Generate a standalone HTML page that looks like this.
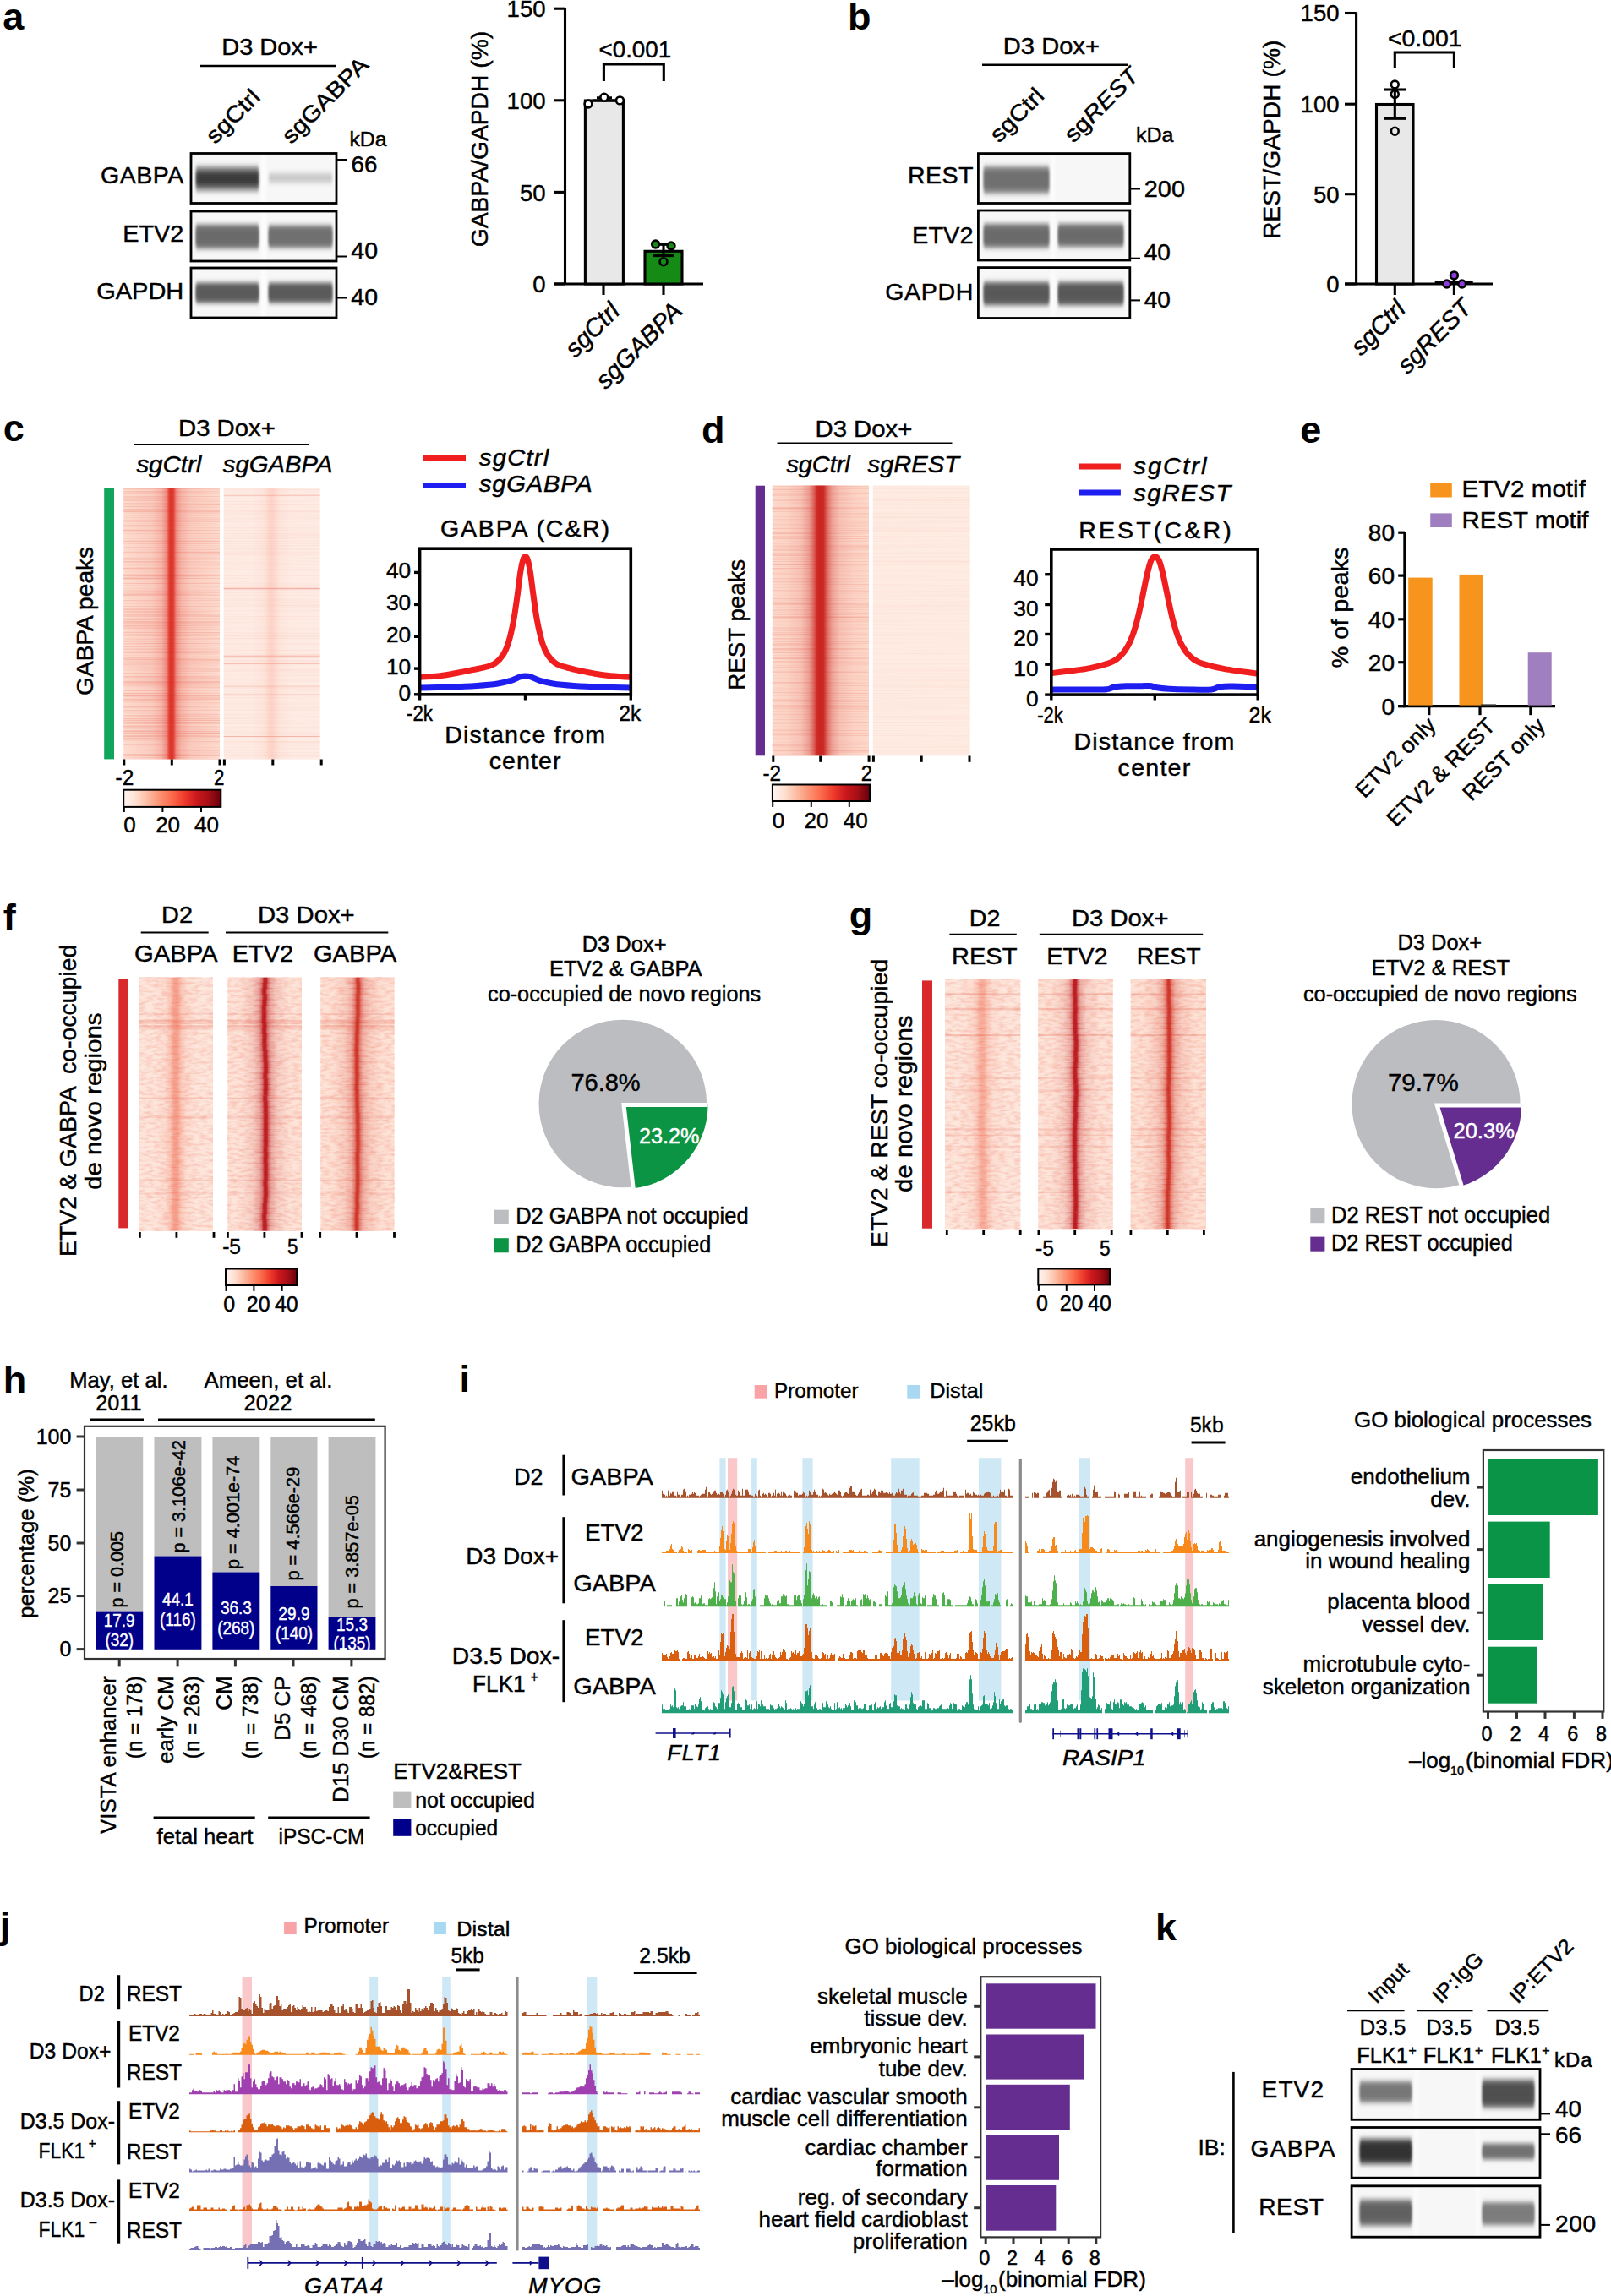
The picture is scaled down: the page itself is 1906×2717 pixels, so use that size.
<!DOCTYPE html>
<html lang="en"><head><meta charset="utf-8"><title>Figure</title>
<style>
html,body{margin:0;padding:0;background:#fff}
svg{display:block}
svg{font-family:"Liberation Sans",sans-serif}
</style></head><body>
<svg width="1906" height="2717" viewBox="0 0 1906 2717" font-size="28" fill="#000">
<rect width="1906" height="2717" fill="#fff"/>
<defs>
<filter id="bl" x="-10%" y="-50%" width="120%" height="200%"><feGaussianBlur stdDeviation="1.6 3.2"/></filter>
<filter id="bl2" x="-10%" y="-10%" width="120%" height="120%"><feGaussianBlur stdDeviation="2 0"/></filter>

<filter id="nz" x="0" y="0" width="100%" height="100%" color-interpolation-filters="sRGB">
<feTurbulence type="fractalNoise" baseFrequency="0.004 0.7" numOctaves="2" seed="7"/>
<feColorMatrix type="matrix" values="0 0 0 0 0.88  0 0 0 0 0.25  0 0 0 0 0.18  1.4 0 0 0 -0.62"/>
</filter>
<filter id="nzw" x="0" y="0" width="100%" height="100%" color-interpolation-filters="sRGB">
<feTurbulence type="fractalNoise" baseFrequency="0.004 0.7" numOctaves="2" seed="23"/>
<feColorMatrix type="matrix" values="0 0 0 0 1  0 0 0 0 0.96  0 0 0 0 0.94  1.2 0 0 0 -0.55"/>
</filter>
<filter id="nz2" x="0" y="0" width="100%" height="100%" color-interpolation-filters="sRGB">
<feTurbulence type="fractalNoise" baseFrequency="0.012 0.35" numOctaves="2" seed="11"/>
<feColorMatrix type="matrix" values="0 0 0 0 0.9  0 0 0 0 0.3  0 0 0 0 0.22  1.3 0 0 0 -0.58"/>
</filter>
<filter id="nz3" x="0" y="0" width="100%" height="100%" color-interpolation-filters="sRGB">
<feTurbulence type="fractalNoise" baseFrequency="0.11 0.32" numOctaves="2" seed="5"/>
<feColorMatrix type="matrix" values="0 0 0 0 0.93  0 0 0 0 0.38  0 0 0 0 0.28  1.3 0 0 0 -0.5"/>
</filter>
<linearGradient id="reds" x1="0" x2="1" y1="0" y2="0">
<stop offset="0" stop-color="#fff5f0"/><stop offset="0.125" stop-color="#fee0d2"/><stop offset="0.25" stop-color="#fcbba1"/>
<stop offset="0.375" stop-color="#fc9272"/><stop offset="0.5" stop-color="#fb6a4a"/><stop offset="0.625" stop-color="#ef3b2c"/>
<stop offset="0.75" stop-color="#cb181d"/><stop offset="0.875" stop-color="#a50f15"/><stop offset="1" stop-color="#67000d"/>
</linearGradient>

</defs>
<g id="pa">
<text transform="translate(3.3 34.6)" font-size="45" font-weight="bold">a</text>
<text transform="translate(262.2 65.2) scale(1.037 1)" stroke="#000" stroke-width="0.45">D3 Dox+</text>
<path d="M237 78L397 78" stroke="#000" stroke-width="2.4" fill="none" />
<text transform="translate(254.5 171.5) rotate(-45) scale(1.100 1)" font-size="27" stroke="#000" stroke-width="0.45">sgCtrl</text>
<text transform="translate(344.5 171.5) rotate(-45) scale(1.100 1)" font-size="27" stroke="#000" stroke-width="0.45">sgGABPA</text>
<text transform="translate(413.4 172.5) scale(1.037 1)" font-size="24" stroke="#000" stroke-width="0.45">kDa</text>
<clipPath id="ca1"><rect x="226" y="181.5" width="172" height="59"/></clipPath>
<g clip-path="url(#ca1)">
<rect x="227" y="181.5" width="83" height="59" fill="#f7f7f7" filter="url(#bl2)"/>
<rect x="313.5" y="181.5" width="83.5" height="59" fill="#f7f7f7" filter="url(#bl2)"/>
<rect x="232" y="197" width="74" height="29" fill="#8a8a8a" opacity="1.0" filter="url(#bl)"/>
<rect x="232" y="203" width="74" height="17" fill="#3a3a3a" opacity="1.0" filter="url(#bl)"/>
<rect x="318" y="205" width="75" height="11" fill="#c8c8c8" opacity="1.0" filter="url(#bl)"/>
</g>
<rect x="226" y="181.5" width="172" height="59" fill="none" stroke="#000" stroke-width="2.8"/>
<clipPath id="ca2"><rect x="226" y="250" width="172" height="59"/></clipPath>
<g clip-path="url(#ca2)">
<rect x="227" y="250" width="83" height="59" fill="#f7f7f7" filter="url(#bl2)"/>
<rect x="313.5" y="250" width="83.5" height="59" fill="#f7f7f7" filter="url(#bl2)"/>
<rect x="232" y="266" width="74" height="28" fill="#7a7a7a" opacity="1.0" filter="url(#bl)"/>
<rect x="232" y="270" width="74" height="20" fill="#6a6a6a" opacity="1.0" filter="url(#bl)"/>
<rect x="318" y="267" width="75" height="26" fill="#7a7a7a" opacity="1.0" filter="url(#bl)"/>
<rect x="318" y="271" width="75" height="18" fill="#707070" opacity="1.0" filter="url(#bl)"/>
</g>
<rect x="226" y="250" width="172" height="59" fill="none" stroke="#000" stroke-width="2.8"/>
<clipPath id="ca3"><rect x="226" y="317" width="172" height="59"/></clipPath>
<g clip-path="url(#ca3)">
<rect x="227" y="317" width="83" height="59" fill="#f7f7f7" filter="url(#bl2)"/>
<rect x="313.5" y="317" width="83.5" height="59" fill="#f7f7f7" filter="url(#bl2)"/>
<rect x="232" y="335" width="74" height="23" fill="#6a6a6a" opacity="1.0" filter="url(#bl)"/>
<rect x="232" y="338" width="74" height="17" fill="#5a5a5a" opacity="1.0" filter="url(#bl)"/>
<rect x="318" y="335" width="75" height="23" fill="#6a6a6a" opacity="1.0" filter="url(#bl)"/>
<rect x="318" y="338" width="75" height="17" fill="#5a5a5a" opacity="1.0" filter="url(#bl)"/>
</g>
<rect x="226" y="317" width="172" height="59" fill="none" stroke="#000" stroke-width="2.8"/>
<text transform="translate(118.9 217) scale(1.040 1)" font-size="27.5" stroke="#000" stroke-width="0.45" letter-spacing="0.47">GABPA</text>
<text transform="translate(145.3 285.5) scale(1.047 1)" font-size="27.5" stroke="#000" stroke-width="0.45">ETV2</text>
<text transform="translate(114.2 354) scale(1.055 1)" font-size="27.5" stroke="#000" stroke-width="0.45">GAPDH</text>
<path d="M398 189L410 189" stroke="#000" stroke-width="2" fill="none" />
<path d="M398 303.5L410 303.5" stroke="#000" stroke-width="2" fill="none" />
<path d="M398 352.5L410 352.5" stroke="#000" stroke-width="2" fill="none" />
<text transform="translate(415.5 204.3) scale(1.010 1)" font-size="27.5" stroke="#000" stroke-width="0.45">66</text>
<text transform="translate(415.3 306) scale(1.036 1)" font-size="27.5" stroke="#000" stroke-width="0.45">40</text>
<text transform="translate(415.3 361) scale(1.036 1)" font-size="27.5" stroke="#000" stroke-width="0.45">40</text>
<path d="M668.5 9.5L668.5 337" stroke="#000" stroke-width="3.1" fill="none" />
<path d="M655 336L832 336" stroke="#000" stroke-width="3.1" fill="none" />
<path d="M655 10.2L668.5 10.2" stroke="#000" stroke-width="3.1" fill="none" />
<text transform="translate(645.5 20.4)" font-size="27.5" text-anchor="end" stroke="#000" stroke-width="0.45">150</text>
<path d="M655 118.8L668.5 118.8" stroke="#000" stroke-width="3.1" fill="none" />
<text transform="translate(645.5 129)" font-size="27.5" text-anchor="end" stroke="#000" stroke-width="0.45">100</text>
<path d="M655 227.4L668.5 227.4" stroke="#000" stroke-width="3.1" fill="none" />
<text transform="translate(645.5 237.6)" font-size="27.5" text-anchor="end" stroke="#000" stroke-width="0.45">50</text>
<path d="M655 336L668.5 336" stroke="#000" stroke-width="3.1" fill="none" />
<text transform="translate(645.5 346.2)" font-size="27.5" text-anchor="end" stroke="#000" stroke-width="0.45">0</text>
<text transform="translate(577 164.5) rotate(-90) scale(1.010 1)" text-anchor="middle" stroke="#000" stroke-width="0.45">GABPA/GAPDH (%)</text>
<rect x="692.4" y="119" width="45" height="217" fill="#e8e8e8" stroke="#000" stroke-width="3.1"/>
<rect x="763" y="297.3" width="44" height="38.7" fill="#158a15" stroke="#000" stroke-width="3.1"/>
<path d="M701.7 119L728 119" stroke="#000" stroke-width="3.1" fill="none" />
<path d="M714.8 115.8L714.8 119" stroke="#000" stroke-width="3.1" fill="none" />
<path d="M706 115.8L724 115.8" stroke="#000" stroke-width="3.1" fill="none" />
<circle cx="696" cy="123" r="4.4" fill="#fff" stroke="#000" stroke-width="2.6"/>
<circle cx="714.8" cy="115.2" r="4.4" fill="#fff" stroke="#000" stroke-width="2.6"/>
<circle cx="733.4" cy="118.9" r="4.4" fill="#fff" stroke="#000" stroke-width="2.6"/>
<path d="M785 289.3L785 302.6" stroke="#000" stroke-width="3.1" fill="none" />
<path d="M773 289.3L797 289.3" stroke="#000" stroke-width="3.1" fill="none" />
<path d="M773 302.6L797 302.6" stroke="#000" stroke-width="3.1" fill="none" />
<circle cx="775.6" cy="289" r="4.4" fill="#158a15" stroke="#000" stroke-width="2.6"/>
<circle cx="794" cy="291" r="4.4" fill="#158a15" stroke="#000" stroke-width="2.6"/>
<circle cx="785" cy="309.7" r="4.4" fill="#158a15" stroke="#000" stroke-width="2.6"/>
<path d="M714.4 96V76H785.3V96" stroke="#000" stroke-width="3.1" fill="none" />
<text transform="translate(708.5 67.7) scale(0.992 1)" stroke="#000" stroke-width="0.45">&lt;0.001</text>
<path d="M714 336L714 349" stroke="#000" stroke-width="3.1" fill="none" />
<path d="M785 336L785 349" stroke="#000" stroke-width="3.1" fill="none" />
<text transform="translate(735 370) rotate(-45)" font-size="29.5" text-anchor="end" font-style="italic" stroke="#000" stroke-width="0.45">sgCtrl</text>
<text transform="translate(809 369.5) rotate(-45)" font-size="29.5" text-anchor="end" font-style="italic" stroke="#000" stroke-width="0.45">sgGABPA</text>
</g>
<g id="pb">
<text transform="translate(1002.9 34.6)" font-size="45" font-weight="bold">b</text>
<text transform="translate(1186.8 63.6) scale(1.041 1)" stroke="#000" stroke-width="0.45">D3 Dox+</text>
<path d="M1162 76.7L1335 76.7" stroke="#000" stroke-width="2.4" fill="none" />
<text transform="translate(1182 170) rotate(-45) scale(1.100 1)" font-size="27" stroke="#000" stroke-width="0.45">sgCtrl</text>
<text transform="translate(1270 170) rotate(-45) scale(1.110 1)" font-size="27" stroke="#000" stroke-width="0.45">sg</text><text transform="translate(1292.4 147.6) rotate(-45) scale(1.110 1)" font-size="27" font-style="italic" stroke="#000" stroke-width="0.45">REST</text>
<text transform="translate(1343.9 167.6) scale(1.046 1)" font-size="24" stroke="#000" stroke-width="0.45">kDa</text>
<clipPath id="cb1"><rect x="1157.4" y="181.6" width="179.4" height="58.9"/></clipPath>
<g clip-path="url(#cb1)">
<rect x="1159" y="181.6" width="86" height="58.9" fill="#f7f7f7" filter="url(#bl2)"/>
<rect x="1247" y="181.6" width="86.5" height="58.9" fill="#f7f7f7" filter="url(#bl2)"/>
<rect x="1164" y="197" width="77" height="32" fill="#909090" opacity="1.0" filter="url(#bl)"/>
<rect x="1164" y="201" width="77" height="23" fill="#707070" opacity="1.0" filter="url(#bl)"/>
</g>
<rect x="1157.4" y="181.6" width="179.4" height="58.9" fill="none" stroke="#000" stroke-width="2.8"/>
<clipPath id="cb2"><rect x="1157.4" y="249" width="179.4" height="59"/></clipPath>
<g clip-path="url(#cb2)">
<rect x="1159" y="249" width="86" height="59" fill="#f7f7f7" filter="url(#bl2)"/>
<rect x="1247" y="249" width="86.5" height="59" fill="#f7f7f7" filter="url(#bl2)"/>
<rect x="1164" y="265" width="77" height="28" fill="#808080" opacity="1.0" filter="url(#bl)"/>
<rect x="1164" y="269" width="77" height="20" fill="#6a6a6a" opacity="1.0" filter="url(#bl)"/>
<rect x="1252" y="265" width="77" height="27" fill="#808080" opacity="1.0" filter="url(#bl)"/>
<rect x="1252" y="269" width="77" height="19" fill="#6a6a6a" opacity="1.0" filter="url(#bl)"/>
</g>
<rect x="1157.4" y="249" width="179.4" height="59" fill="none" stroke="#000" stroke-width="2.8"/>
<clipPath id="cb3"><rect x="1157.4" y="316.6" width="179.4" height="59.9"/></clipPath>
<g clip-path="url(#cb3)">
<rect x="1159" y="316.6" width="86" height="59.9" fill="#f7f7f7" filter="url(#bl2)"/>
<rect x="1247" y="316.6" width="86.5" height="59.9" fill="#f7f7f7" filter="url(#bl2)"/>
<rect x="1164" y="334" width="77" height="27" fill="#6a6a6a" opacity="1.0" filter="url(#bl)"/>
<rect x="1164" y="338" width="77" height="19" fill="#585858" opacity="1.0" filter="url(#bl)"/>
<rect x="1252" y="334" width="77" height="27" fill="#6a6a6a" opacity="1.0" filter="url(#bl)"/>
<rect x="1252" y="338" width="77" height="19" fill="#585858" opacity="1.0" filter="url(#bl)"/>
</g>
<rect x="1157.4" y="316.6" width="179.4" height="59.9" fill="none" stroke="#000" stroke-width="2.8"/>
<text transform="translate(1073.9 217.3) scale(1.040 1)" font-size="27.5" stroke="#000" stroke-width="0.45" letter-spacing="0.42">REST</text>
<text transform="translate(1079.1 288) scale(1.053 1)" font-size="27.5" stroke="#000" stroke-width="0.45">ETV2</text>
<text transform="translate(1047.2 354.7) scale(1.040 1)" font-size="27.5" stroke="#000" stroke-width="0.45" letter-spacing="0.63">GAPDH</text>
<path d="M1336.8 223.5L1349 223.5" stroke="#000" stroke-width="2" fill="none" />
<path d="M1336.8 305.7L1349 305.7" stroke="#000" stroke-width="2" fill="none" />
<path d="M1336.8 355.4L1349 355.4" stroke="#000" stroke-width="2" fill="none" />
<text transform="translate(1353.8 232.5) scale(1.049 1)" font-size="27.5" stroke="#000" stroke-width="0.45">200</text>
<text transform="translate(1353.8 307.5) scale(1.017 1)" font-size="27.5" stroke="#000" stroke-width="0.45">40</text>
<text transform="translate(1353.8 364) scale(1.017 1)" font-size="27.5" stroke="#000" stroke-width="0.45">40</text>
<path d="M1604.6 14.5L1604.6 337" stroke="#000" stroke-width="3.1" fill="none" />
<path d="M1591 336L1766 336" stroke="#000" stroke-width="3.1" fill="none" />
<path d="M1591 15.5L1604.6 15.5" stroke="#000" stroke-width="3.1" fill="none" />
<text transform="translate(1584.5 25.3)" font-size="27.5" text-anchor="end" stroke="#000" stroke-width="0.45">150</text>
<path d="M1591 123.2L1604.6 123.2" stroke="#000" stroke-width="3.1" fill="none" />
<text transform="translate(1584.5 133)" font-size="27.5" text-anchor="end" stroke="#000" stroke-width="0.45">100</text>
<path d="M1591 229.7L1604.6 229.7" stroke="#000" stroke-width="3.1" fill="none" />
<text transform="translate(1584.5 239.5)" font-size="27.5" text-anchor="end" stroke="#000" stroke-width="0.45">50</text>
<path d="M1591 336L1604.6 336" stroke="#000" stroke-width="3.1" fill="none" />
<text transform="translate(1584.5 345.8)" font-size="27.5" text-anchor="end" stroke="#000" stroke-width="0.45">0</text>
<text transform="translate(1514 165.3) rotate(-90) scale(1.010 1)" text-anchor="middle" stroke="#000" stroke-width="0.45">REST/GAPDH (%)</text>
<rect x="1628.5" y="123.5" width="43.5" height="212.5" fill="#e8e8e8" stroke="#000" stroke-width="3.1"/>
<path d="M1650.3 106L1650.3 140.3" stroke="#000" stroke-width="3.1" fill="none" />
<path d="M1637 106L1663 106" stroke="#000" stroke-width="3.1" fill="none" />
<path d="M1637 140.3L1663 140.3" stroke="#000" stroke-width="3.1" fill="none" />
<circle cx="1650.3" cy="100" r="4.4" fill="none" stroke="#000" stroke-width="2.6"/>
<circle cx="1650.3" cy="111.5" r="4.4" fill="none" stroke="#000" stroke-width="2.6"/>
<circle cx="1650.3" cy="155.2" r="4.4" fill="none" stroke="#000" stroke-width="2.6"/>
<path d="M1697.7 334.6L1742.7 334.6" stroke="#000" stroke-width="3.1" fill="none" />
<path d="M1720.4 330L1720.4 349" stroke="#000" stroke-width="3.1" fill="none" />
<circle cx="1711.7" cy="336" r="4.4" fill="#8e3bdb" stroke="#000" stroke-width="2.6"/>
<circle cx="1720.4" cy="325.9" r="4.4" fill="#8e3bdb" stroke="#000" stroke-width="2.6"/>
<circle cx="1729.7" cy="336" r="4.4" fill="#8e3bdb" stroke="#000" stroke-width="2.6"/>
<path d="M1650.3 81V62H1720.4V81" stroke="#000" stroke-width="3.1" fill="none" />
<text transform="translate(1641.9 55.2) scale(1.016 1)" stroke="#000" stroke-width="0.45">&lt;0.001</text>
<path d="M1650.3 336L1650.3 349" stroke="#000" stroke-width="3.1" fill="none" />
<text transform="translate(1664.7 367.5) rotate(-45)" font-size="29.5" text-anchor="end" font-style="italic" stroke="#000" stroke-width="0.45">sgCtrl</text>
<text transform="translate(1743 366) rotate(-45)" font-size="29.5" text-anchor="end" font-style="italic" stroke="#000" stroke-width="0.45">sgREST</text>
</g>
<g id="pc">
<text transform="translate(3.7 522)" font-size="45" font-weight="bold">c</text>
<text transform="translate(211 515.7) scale(1.047 1)" stroke="#000" stroke-width="0.45">D3 Dox+</text>
<path d="M159 526L365.6 526" stroke="#000" stroke-width="2" fill="none" />
<text transform="translate(161.4 559) scale(1.052 1)" font-style="italic" stroke="#000" stroke-width="0.45">sgCtrl</text>
<text transform="translate(263.8 559) scale(1.046 1)" font-style="italic" stroke="#000" stroke-width="0.45">sgGABPA</text>
<rect x="123.2" y="577.8" width="11.8" height="320.6" fill="#0fa55a"/>
<rect x="146.2" y="577" width="113.8" height="321.4" fill="#fddccf"/>
<path d="M146.2 653.5h113.8" stroke="#e0402f" stroke-width="1" opacity="0.13" fill="none"/>
<path d="M146.2 871.4h113.8" stroke="#e0402f" stroke-width="2" opacity="0.12" fill="none"/>
<path d="M146.2 598.1h113.8M146.2 865.3h113.8" stroke="#e0402f" stroke-width="1.5" opacity="0.05" fill="none"/>
<path d="M146.2 660.4h113.8M146.2 736.1h113.8" stroke="#e0402f" stroke-width="1.5" opacity="0.09" fill="none"/>
<path d="M146.2 750.9h113.8" stroke="#e0402f" stroke-width="1.5" opacity="0.13" fill="none"/>
<path d="M146.2 782.4h113.8" stroke="#e0402f" stroke-width="1" opacity="0.07" fill="none"/>
<path d="M146.2 856h113.8" stroke="#e0402f" stroke-width="0.8" opacity="0.13" fill="none"/>
<path d="M146.2 792.8h113.8" stroke="#e0402f" stroke-width="2" opacity="0.06" fill="none"/>
<path d="M146.2 590.8h113.8" stroke="#e0402f" stroke-width="1" opacity="0.17" fill="none"/>
<path d="M146.2 728.9h113.8M146.2 771.4h113.8" stroke="#e0402f" stroke-width="1.5" opacity="0.16" fill="none"/>
<path d="M146.2 806.5h113.8" stroke="#e0402f" stroke-width="1.5" opacity="0.19" fill="none"/>
<path d="M146.2 811h113.8M146.2 867.8h113.8" stroke="#e0402f" stroke-width="1" opacity="0.14" fill="none"/>
<path d="M146.2 859.5h113.8" stroke="#e0402f" stroke-width="1" opacity="0.06" fill="none"/>
<path d="M146.2 827.4h113.8" stroke="#e0402f" stroke-width="1.5" opacity="0.18" fill="none"/>
<path d="M146.2 740h113.8M146.2 748.7h113.8" stroke="#e0402f" stroke-width="1" opacity="0.11" fill="none"/>
<path d="M146.2 867.6h113.8" stroke="#e0402f" stroke-width="0.8" opacity="0.15" fill="none"/>
<path d="M146.2 852.2h113.8M146.2 780.4h113.8" stroke="#e0402f" stroke-width="1" opacity="0.2" fill="none"/>
<path d="M146.2 801.5h113.8" stroke="#e0402f" stroke-width="2" opacity="0.1" fill="none"/>
<path d="M146.2 668.6h113.8" stroke="#e0402f" stroke-width="1.5" opacity="0.06" fill="none"/>
<path d="M146.2 605.4h113.8" stroke="#e0402f" stroke-width="1.5" opacity="0.17" fill="none"/>
<path d="M146.2 824.1h113.8" stroke="#e0402f" stroke-width="0.8" opacity="0.18" fill="none"/>
<path d="M146.2 807.9h113.8" stroke="#e0402f" stroke-width="1" opacity="0.1" fill="none"/>
<rect x="146.2" y="577" width="113.8" height="321.4" filter="url(#nz)" opacity="0.45"/>
<linearGradient id="g1" x1="0" x2="1" y1="0" y2="0"><stop offset="0.000" stop-color="#dc2a20" stop-opacity="0"/><stop offset="0.297" stop-color="#dc2a20" stop-opacity="0.09"/><stop offset="0.397" stop-color="#dc2a20" stop-opacity="0.22"/><stop offset="0.447" stop-color="#dc2a20" stop-opacity="0.45"/><stop offset="0.475" stop-color="#dc2a20" stop-opacity="0.88"/><stop offset="0.497" stop-color="#dc2a20" stop-opacity="0.95"/><stop offset="0.519" stop-color="#dc2a20" stop-opacity="0.88"/><stop offset="0.547" stop-color="#dc2a20" stop-opacity="0.45"/><stop offset="0.597" stop-color="#dc2a20" stop-opacity="0.22"/><stop offset="0.697" stop-color="#dc2a20" stop-opacity="0.09"/><stop offset="0.997" stop-color="#dc2a20" stop-opacity="0"/></linearGradient>
<rect x="146.2" y="577" width="113.8" height="321.4" fill="url(#g1)"/>
<rect x="264.7" y="577" width="113.9" height="321.4" fill="#feebe3"/>
<path d="M264.7 777.2h113.9" stroke="#e0402f" stroke-width="2" opacity="0.29" fill="none"/>
<path d="M264.7 586.3h113.9" stroke="#e0402f" stroke-width="1" opacity="0.22" fill="none"/>
<path d="M264.7 785.6h113.9" stroke="#e0402f" stroke-width="0.8" opacity="0.33" fill="none"/>
<path d="M264.7 696.5h113.9" stroke="#e0402f" stroke-width="1.5" opacity="0.32" fill="none"/>
<path d="M264.7 751.8h113.9" stroke="#e0402f" stroke-width="0.8" opacity="0.24" fill="none"/>
<path d="M264.7 812h113.9" stroke="#e0402f" stroke-width="1" opacity="0.2" fill="none"/>
<path d="M264.7 871.5h113.9" stroke="#e0402f" stroke-width="1" opacity="0.29" fill="none"/>
<path d="M264.7 821.9h113.9" stroke="#e0402f" stroke-width="2" opacity="0.12" fill="none"/>
<path d="M264.7 775.4h113.9" stroke="#e0402f" stroke-width="0.8" opacity="0.13" fill="none"/>
<rect x="264.7" y="577" width="113.9" height="321.4" filter="url(#nz)" opacity="0.12"/>
<linearGradient id="g2" x1="0" x2="1" y1="0" y2="0"><stop offset="0.297" stop-color="#f4866a" stop-opacity="0"/><stop offset="0.417" stop-color="#f4866a" stop-opacity="0.06"/><stop offset="0.467" stop-color="#f4866a" stop-opacity="0.18"/><stop offset="0.497" stop-color="#f4866a" stop-opacity="0.22"/><stop offset="0.527" stop-color="#f4866a" stop-opacity="0.18"/><stop offset="0.577" stop-color="#f4866a" stop-opacity="0.06"/><stop offset="0.697" stop-color="#f4866a" stop-opacity="0"/></linearGradient>
<rect x="264.7" y="577" width="113.9" height="321.4" fill="url(#g2)"/>
<path d="M146.8 898.5L146.8 905.5" stroke="#000" stroke-width="3" fill="none" />
<path d="M203.3 898.5L203.3 905.5" stroke="#000" stroke-width="3" fill="none" />
<path d="M260 898.5L260 905.5" stroke="#000" stroke-width="3" fill="none" />
<path d="M265.4 898.5L265.4 905.5" stroke="#000" stroke-width="3" fill="none" />
<path d="M322.8 898.5L322.8 905.5" stroke="#000" stroke-width="3" fill="none" />
<path d="M380.2 898.5L380.2 905.5" stroke="#000" stroke-width="3" fill="none" />
<text transform="translate(136.6 929) scale(0.975 1)" font-size="25" stroke="#000" stroke-width="0.45">-2</text>
<text transform="translate(253 929) scale(0.894 1)" font-size="25" stroke="#000" stroke-width="0.45">2</text>
<rect x="146.2" y="934.7" width="115.1" height="20.2" fill="url(#reds)" stroke="#000" stroke-width="2"/>
<path d="M146.8 954.9L146.8 961" stroke="#000" stroke-width="2" fill="none" />
<path d="M192.4 954.9L192.4 961" stroke="#000" stroke-width="2" fill="none" />
<path d="M238 954.9L238 961" stroke="#000" stroke-width="2" fill="none" />
<text transform="translate(153.6 985.3)" font-size="26" text-anchor="middle" stroke="#000" stroke-width="0.45">0</text>
<text transform="translate(198.6 985.3)" font-size="26" text-anchor="middle" stroke="#000" stroke-width="0.45">20</text>
<text transform="translate(244.4 985.3)" font-size="26" text-anchor="middle" stroke="#000" stroke-width="0.45">40</text>
<text transform="translate(110 823) rotate(-90) scale(1.005 1)" stroke="#000" stroke-width="0.45">GABPA peaks</text>
<path d="M500.5 542L551 542" stroke="#f01e1e" stroke-width="6.8" fill="none" />
<path d="M500.5 574.7L551 574.7" stroke="#1e1ef0" stroke-width="6.8" fill="none" />
<text transform="translate(567 550.8) scale(1.040 1)" font-style="italic" stroke="#000" stroke-width="0.45" letter-spacing="1.21">sgCtrl</text>
<text transform="translate(567 581.8) scale(1.040 1)" font-style="italic" stroke="#000" stroke-width="0.45" letter-spacing="0.76">sgGABPA</text>
<text transform="translate(521 634.6) scale(1.040 1)" font-size="27.5" stroke="#000" stroke-width="0.45" letter-spacing="1.71">GABPA (C&amp;R)</text>
<clipPath id="cpc"><rect x="496.6" y="649.2" width="249.7" height="172.6"/></clipPath>
<g clip-path="url(#cpc)">
<path d="M496.8 801.2C500.8 801 513.1 800.6 520.7 799.7C528.3 798.8 536.2 797.1 542.4 796C548.6 794.8 552.8 793.9 557.9 792.8C563.1 791.8 568.8 791.1 573.5 789.7C578.1 788.4 582.3 787.3 585.9 784.8C589.5 782.3 592.6 778.8 595.2 774.8C597.8 770.9 599.3 767.6 601.4 760.9C603.5 754.2 605.8 744.1 607.6 734.5C609.4 724.9 610.9 713.3 612.3 703.5C613.6 693.6 614.8 682.5 616 675.5C617.1 668.5 618.2 664.3 619.1 661.6C620 658.8 620.7 659.1 621.6 659.1C622.4 659.1 623.1 658.8 624 661.6C625 664.3 626 668.5 627.2 675.5C628.3 682.5 629.5 693.6 630.9 703.5C632.3 713.3 633.7 724.9 635.5 734.5C637.3 744.1 639.7 754.2 641.7 760.9C643.8 767.6 645.4 770.9 647.9 774.8C650.5 778.8 653.6 782.3 657.3 784.8C660.9 787.3 665 788.3 669.7 789.7C674.3 791.2 679.5 792.2 685.2 793.5C690.9 794.7 697.6 796.2 703.8 797.2C710 798.2 715.3 799 722.4 799.7C729.5 800.3 742.3 801 746.3 801.2" stroke="#f01e1e" stroke-width="7" fill="none" stroke-linejoin="round"/>
<path d="M496.8 814C502.8 813.8 521.9 813.4 533.1 813C544.3 812.6 554.8 812.1 564.1 811.5C573.5 810.8 582.3 810 589 809C595.7 808 600.1 806.6 604.5 805.3C608.9 803.9 612.5 801.8 615.4 800.9C618.2 800 619.5 800 621.6 800C623.6 800 624.9 800 627.8 800.9C630.6 801.8 634.2 803.9 638.6 805.3C643 806.6 647.4 808 654.2 809C660.9 810 669.7 810.8 679 811.5C688.3 812.1 698.8 812.6 710 813C721.2 813.4 740.3 813.8 746.3 814" stroke="#1e1ef0" stroke-width="7" fill="none" stroke-linejoin="round"/>
</g>
<rect x="496.6" y="649.2" width="249.7" height="172.6" fill="none" stroke="#000" stroke-width="3.6"/>
<path d="M490 677.4L496.6 677.4" stroke="#000" stroke-width="3.4" fill="none" />
<text transform="translate(486.2 684.3) scale(1.050 1)" font-size="25" text-anchor="end" stroke="#000" stroke-width="0.45">40</text>
<path d="M490 715.4L496.6 715.4" stroke="#000" stroke-width="3.4" fill="none" />
<text transform="translate(486.2 722.3) scale(1.050 1)" font-size="25" text-anchor="end" stroke="#000" stroke-width="0.45">30</text>
<path d="M490 753.3L496.6 753.3" stroke="#000" stroke-width="3.4" fill="none" />
<text transform="translate(486.2 760.2) scale(1.050 1)" font-size="25" text-anchor="end" stroke="#000" stroke-width="0.45">20</text>
<path d="M490 791.1L496.6 791.1" stroke="#000" stroke-width="3.4" fill="none" />
<text transform="translate(486.2 798) scale(1.050 1)" font-size="25" text-anchor="end" stroke="#000" stroke-width="0.45">10</text>
<path d="M490 821.8L496.6 821.8" stroke="#000" stroke-width="3.4" fill="none" />
<text transform="translate(486.2 828.7) scale(1.050 1)" font-size="25" text-anchor="end" stroke="#000" stroke-width="0.45">0</text>
<path d="M496.6 821.8L496.6 828.5" stroke="#000" stroke-width="3.4" fill="none" />
<path d="M621.5 821.8L621.5 828.5" stroke="#000" stroke-width="3.4" fill="none" />
<path d="M746.3 821.8L746.3 828.5" stroke="#000" stroke-width="3.4" fill="none" />
<text transform="translate(481 853) scale(0.890 1)" font-size="25" stroke="#000" stroke-width="0.45">-2k</text>
<text transform="translate(732.5 853) scale(0.965 1)" font-size="25" stroke="#000" stroke-width="0.45">2k</text>
<text transform="translate(526.3 878.8) scale(1.040 1)" font-size="27.5" stroke="#000" stroke-width="0.45" letter-spacing="1.08">Distance from</text>
<text transform="translate(578.7 909.9) scale(1.040 1)" font-size="27.5" stroke="#000" stroke-width="0.45" letter-spacing="1.02">center</text>
</g>
<g id="pd">
<text transform="translate(830 523.5)" font-size="45" font-weight="bold">d</text>
<text transform="translate(964.5 516.6) scale(1.047 1)" stroke="#000" stroke-width="0.45">D3 Dox+</text>
<path d="M919.5 524.4L1126.5 524.4" stroke="#000" stroke-width="2" fill="none" />
<text transform="translate(930.4 559) scale(1.030 1)" font-style="italic" stroke="#000" stroke-width="0.45">sgCtrl</text>
<text transform="translate(1026.6 559) scale(1.040 1)" font-style="italic" stroke="#000" stroke-width="0.45">sgREST</text>
<rect x="893.7" y="574.7" width="11.3" height="319.6" fill="#662d91"/>
<rect x="913.9" y="574.5" width="114.1" height="319.8" fill="#fdd9cb"/>
<path d="M913.9 657.3h114.1M913.9 838.8h114.1" stroke="#e0402f" stroke-width="1" opacity="0.12" fill="none"/>
<path d="M913.9 783h114.1M913.9 778.7h114.1" stroke="#e0402f" stroke-width="1" opacity="0.11" fill="none"/>
<path d="M913.9 779.5h114.1" stroke="#e0402f" stroke-width="0.8" opacity="0.06" fill="none"/>
<path d="M913.9 744.4h114.1M913.9 649.9h114.1" stroke="#e0402f" stroke-width="1" opacity="0.06" fill="none"/>
<path d="M913.9 584.1h114.1" stroke="#e0402f" stroke-width="2" opacity="0.05" fill="none"/>
<path d="M913.9 893.7h114.1" stroke="#e0402f" stroke-width="1" opacity="0.15" fill="none"/>
<path d="M913.9 601.7h114.1M913.9 836.6h114.1" stroke="#e0402f" stroke-width="1" opacity="0.13" fill="none"/>
<path d="M913.9 828.3h114.1" stroke="#e0402f" stroke-width="1" opacity="0.07" fill="none"/>
<path d="M913.9 730.2h114.1M913.9 715.3h114.1" stroke="#e0402f" stroke-width="2" opacity="0.12" fill="none"/>
<path d="M913.9 888.4h114.1" stroke="#e0402f" stroke-width="1.5" opacity="0.11" fill="none"/>
<path d="M913.9 795.5h114.1" stroke="#e0402f" stroke-width="1" opacity="0.1" fill="none"/>
<path d="M913.9 631h114.1" stroke="#e0402f" stroke-width="2" opacity="0.06" fill="none"/>
<path d="M913.9 688.4h114.1M913.9 768.1h114.1" stroke="#e0402f" stroke-width="1" opacity="0.08" fill="none"/>
<path d="M913.9 759.1h114.1" stroke="#e0402f" stroke-width="2" opacity="0.1" fill="none"/>
<path d="M913.9 616.4h114.1M913.9 646.4h114.1" stroke="#e0402f" stroke-width="1.5" opacity="0.09" fill="none"/>
<path d="M913.9 699.1h114.1" stroke="#e0402f" stroke-width="0.8" opacity="0.12" fill="none"/>
<path d="M913.9 778.9h114.1" stroke="#e0402f" stroke-width="1.5" opacity="0.06" fill="none"/>
<rect x="913.9" y="574.5" width="114.1" height="319.8" filter="url(#nz)" opacity="0.35"/>
<linearGradient id="g3" x1="0" x2="1" y1="0" y2="0"><stop offset="0.000" stop-color="#c91f1b" stop-opacity="0"/><stop offset="0.147" stop-color="#c91f1b" stop-opacity="0.03"/><stop offset="0.297" stop-color="#c91f1b" stop-opacity="0.12"/><stop offset="0.377" stop-color="#c91f1b" stop-opacity="0.3"/><stop offset="0.427" stop-color="#c91f1b" stop-opacity="0.6"/><stop offset="0.462" stop-color="#c91f1b" stop-opacity="0.93"/><stop offset="0.497" stop-color="#c91f1b" stop-opacity="0.97"/><stop offset="0.532" stop-color="#c91f1b" stop-opacity="0.93"/><stop offset="0.567" stop-color="#c91f1b" stop-opacity="0.6"/><stop offset="0.617" stop-color="#c91f1b" stop-opacity="0.3"/><stop offset="0.697" stop-color="#c91f1b" stop-opacity="0.12"/><stop offset="0.847" stop-color="#c91f1b" stop-opacity="0.03"/><stop offset="0.997" stop-color="#c91f1b" stop-opacity="0"/></linearGradient>
<rect x="913.9" y="574.5" width="114.1" height="319.8" fill="url(#g3)"/>
<rect x="1032.8" y="574.5" width="114.8" height="319.8" fill="#feebe2"/>
<path d="M1032.8 883.2h114.8" stroke="#e0402f" stroke-width="0.8" opacity="0.03" fill="none"/>
<path d="M1032.8 625h114.8" stroke="#e0402f" stroke-width="0.8" opacity="0.08" fill="none"/>
<path d="M1032.8 592.1h114.8" stroke="#e0402f" stroke-width="1" opacity="0.07" fill="none"/>
<path d="M1032.8 848.7h114.8" stroke="#e0402f" stroke-width="1" opacity="0.08" fill="none"/>
<path d="M1032.8 612h114.8" stroke="#e0402f" stroke-width="1" opacity="0.05" fill="none"/>
<path d="M1032.8 664.2h114.8" stroke="#e0402f" stroke-width="1" opacity="0.04" fill="none"/>
<rect x="1032.8" y="574.5" width="114.8" height="319.8" filter="url(#nz)" opacity="0.08"/>
<path d="M914.8 894.5L914.8 901.8" stroke="#000" stroke-width="3" fill="none" />
<path d="M970.7 894.5L970.7 901.8" stroke="#000" stroke-width="3" fill="none" />
<path d="M1028.1 894.5L1028.1 901.8" stroke="#000" stroke-width="3" fill="none" />
<path d="M1033.4 894.5L1033.4 901.8" stroke="#000" stroke-width="3" fill="none" />
<path d="M1090.2 894.5L1090.2 901.8" stroke="#000" stroke-width="3" fill="none" />
<path d="M1147 894.5L1147 901.8" stroke="#000" stroke-width="3" fill="none" />
<text transform="translate(902.4 923.8) scale(0.971 1)" font-size="25" stroke="#000" stroke-width="0.45">-2</text>
<text transform="translate(1018.8 923.8) scale(0.951 1)" font-size="25" stroke="#000" stroke-width="0.45">2</text>
<rect x="913.9" y="928.5" width="115.1" height="19.5" fill="url(#reds)" stroke="#000" stroke-width="2"/>
<path d="M914.2 948L914.2 954.9" stroke="#000" stroke-width="2" fill="none" />
<path d="M959.8 948L959.8 954.9" stroke="#000" stroke-width="2" fill="none" />
<path d="M1004.8 948L1004.8 954.9" stroke="#000" stroke-width="2" fill="none" />
<text transform="translate(921 979.7)" font-size="26" text-anchor="middle" stroke="#000" stroke-width="0.45">0</text>
<text transform="translate(966 979.7)" font-size="26" text-anchor="middle" stroke="#000" stroke-width="0.45">20</text>
<text transform="translate(1012.3 979.7)" font-size="26" text-anchor="middle" stroke="#000" stroke-width="0.45">40</text>
<text transform="translate(881.3 816.7) rotate(-90) scale(0.990 1)" stroke="#000" stroke-width="0.45">REST peaks</text>
<path d="M1276.2 552L1325.9 552" stroke="#f01e1e" stroke-width="7" fill="none" />
<path d="M1276.2 583L1325.9 583" stroke="#1e1ef0" stroke-width="7" fill="none" />
<text transform="translate(1341.3 561.4) scale(1.040 1)" font-style="italic" stroke="#000" stroke-width="0.45" letter-spacing="1.96">sgCtrl</text>
<text transform="translate(1341.3 593) scale(1.040 1)" font-style="italic" stroke="#000" stroke-width="0.45" letter-spacing="1.26">sgREST</text>
<text transform="translate(1276.2 636.9) scale(1.040 1)" font-size="27.5" stroke="#000" stroke-width="0.45" letter-spacing="2.98">REST(C&amp;R)</text>
<clipPath id="cpd"><rect x="1243.8" y="650" width="244.4" height="172.1"/></clipPath>
<g clip-path="url(#cpd)">
<path d="M1244.4 796.6C1247.7 796.2 1257.7 794.9 1264.3 794.1C1270.9 793.3 1277.9 792.6 1284.1 791.6C1290.4 790.6 1296.1 789.3 1301.5 787.9C1306.9 786.4 1312.3 785 1316.4 782.9C1320.6 780.8 1323.5 778.4 1326.4 775.5C1329.3 772.6 1331.5 769.5 1333.8 765.5C1336.1 761.6 1337.9 757.7 1340 751.9C1342.1 746.1 1344.3 738.4 1346.2 730.8C1348.2 723.1 1349.8 714.6 1351.7 705.9C1353.5 697.3 1355.7 685.7 1357.4 678.6C1359 671.6 1360.4 667 1361.6 663.7C1362.9 660.5 1364 660.1 1364.8 659.3C1365.7 658.4 1366 658.8 1366.6 658.8C1367.2 658.8 1367.5 658.4 1368.3 659.3C1369.1 660.1 1370.3 660.5 1371.5 663.7C1372.8 667 1374.1 671.6 1375.8 678.6C1377.4 685.7 1379.6 697.3 1381.5 705.9C1383.3 714.6 1385 723.1 1386.9 730.8C1388.9 738.4 1391.1 746.1 1393.1 751.9C1395.2 757.7 1397.1 761.6 1399.4 765.5C1401.6 769.5 1403.9 772.6 1406.8 775.5C1409.7 778.4 1412.6 780.8 1416.7 782.9C1420.9 785 1426.3 786.4 1431.6 787.9C1437 789.3 1442.8 790.5 1449 791.6C1455.2 792.7 1462.3 793.6 1468.9 794.6C1475.4 795.5 1485 796.9 1488.2 797.3" stroke="#f01e1e" stroke-width="7" fill="none" stroke-linejoin="round"/>
<path d="M1244.4 815.9C1251 815.9 1273.4 816 1284.1 815.9C1294.9 815.9 1303.2 816.2 1309 815.7C1314.8 815.2 1314.8 813.4 1318.9 812.7C1323 812.1 1328.8 811.9 1333.8 811.7C1338.8 811.6 1344.2 811.8 1348.7 811.7C1353.3 811.7 1357.8 811.1 1361.1 811.5C1364.4 811.8 1364.8 813.1 1368.6 813.7C1372.3 814.3 1376.8 814.8 1383.5 815.2C1390.1 815.6 1400 815.8 1408.3 815.9C1416.6 816.1 1427.3 816.5 1433.1 815.9C1438.9 815.4 1438.9 813.4 1443.1 812.7C1447.2 812.1 1450.4 811.9 1458 812C1465.5 812.1 1483.2 813 1488.2 813.2" stroke="#1e1ef0" stroke-width="7" fill="none" stroke-linejoin="round"/>
</g>
<rect x="1243.8" y="650" width="244.4" height="172.1" fill="none" stroke="#000" stroke-width="3.6"/>
<path d="M1236.2 679.7L1243.8 679.7" stroke="#000" stroke-width="3.4" fill="none" />
<text transform="translate(1228.5 693.3) scale(1.050 1)" font-size="25" text-anchor="end" stroke="#000" stroke-width="0.45">40</text>
<path d="M1236.2 715.5L1243.8 715.5" stroke="#000" stroke-width="3.4" fill="none" />
<text transform="translate(1228.5 729.1) scale(1.050 1)" font-size="25" text-anchor="end" stroke="#000" stroke-width="0.45">30</text>
<path d="M1236.2 750.5L1243.8 750.5" stroke="#000" stroke-width="3.4" fill="none" />
<text transform="translate(1228.5 764.1) scale(1.050 1)" font-size="25" text-anchor="end" stroke="#000" stroke-width="0.45">20</text>
<path d="M1236.2 786.2L1243.8 786.2" stroke="#000" stroke-width="3.4" fill="none" />
<text transform="translate(1228.5 799.8) scale(1.050 1)" font-size="25" text-anchor="end" stroke="#000" stroke-width="0.45">10</text>
<path d="M1236.2 822.1L1243.8 822.1" stroke="#000" stroke-width="3.4" fill="none" />
<text transform="translate(1228.5 835.7) scale(1.050 1)" font-size="25" text-anchor="end" stroke="#000" stroke-width="0.45">0</text>
<path d="M1243.8 822.1L1243.8 828.5" stroke="#000" stroke-width="3.4" fill="none" />
<path d="M1366.3 822.1L1366.3 828.5" stroke="#000" stroke-width="3.4" fill="none" />
<path d="M1488.2 822.1L1488.2 828.5" stroke="#000" stroke-width="3.4" fill="none" />
<text transform="translate(1227.2 854.8) scale(0.885 1)" font-size="25" stroke="#000" stroke-width="0.45">-2k</text>
<text transform="translate(1477.5 854.8)" font-size="25" stroke="#000" stroke-width="0.45">2k</text>
<text transform="translate(1270.5 887.2) scale(1.040 1)" font-size="27.5" stroke="#000" stroke-width="0.45" letter-spacing="1.08">Distance from</text>
<text transform="translate(1322.6 917.5) scale(1.040 1)" font-size="27.5" stroke="#000" stroke-width="0.45" letter-spacing="1.19">center</text>
</g>
<g id="pe">
<text transform="translate(1538.3 524.2)" font-size="45" font-weight="bold">e</text>
<rect x="1692.2" y="571.9" width="25.6" height="16.6" fill="#f7941d"/>
<rect x="1692.2" y="607.4" width="25.6" height="16.6" fill="#a07fc0"/>
<text transform="translate(1729.5 588) scale(1.039 1)" font-size="28.5" stroke="#000" stroke-width="0.45">ETV2 motif</text>
<text transform="translate(1729.5 624.5) scale(1.034 1)" font-size="28.5" stroke="#000" stroke-width="0.45">REST motif</text>
<path d="M1661.9 629L1661.9 837.2" stroke="#000" stroke-width="3.2" fill="none" />
<path d="M1654.2 835.6L1840 835.6" stroke="#000" stroke-width="3.2" fill="none" />
<path d="M1654.2 630.2L1661.9 630.2" stroke="#000" stroke-width="3.2" fill="none" />
<text transform="translate(1650 640.2)" text-anchor="end" stroke="#000" stroke-width="0.45">80</text>
<path d="M1654.2 681.1L1661.9 681.1" stroke="#000" stroke-width="3.2" fill="none" />
<text transform="translate(1650 691.1)" text-anchor="end" stroke="#000" stroke-width="0.45">60</text>
<path d="M1654.2 732.8L1661.9 732.8" stroke="#000" stroke-width="3.2" fill="none" />
<text transform="translate(1650 742.8)" text-anchor="end" stroke="#000" stroke-width="0.45">40</text>
<path d="M1654.2 783.7L1661.9 783.7" stroke="#000" stroke-width="3.2" fill="none" />
<text transform="translate(1650 793.7)" text-anchor="end" stroke="#000" stroke-width="0.45">20</text>
<path d="M1654.2 835.6L1661.9 835.6" stroke="#000" stroke-width="3.2" fill="none" />
<text transform="translate(1650 845.6)" text-anchor="end" stroke="#000" stroke-width="0.45">0</text>
<text transform="translate(1595.4 790.4) rotate(-90) scale(1.031 1)" stroke="#000" stroke-width="0.45">% of peaks</text>
<rect x="1666.2" y="683.6" width="28.5" height="151" fill="#f7941d"/>
<rect x="1726.5" y="679.9" width="28.5" height="154.7" fill="#f7941d"/>
<rect x="1752" y="833.4" width="18" height="1.5" fill="#333"/>
<rect x="1807.7" y="772.2" width="28" height="62.4" fill="#a07fc0"/>
<path d="M1690.8 835.6L1690.8 846.2" stroke="#000" stroke-width="3.2" fill="none" />
<path d="M1751 835.6L1751 846.2" stroke="#000" stroke-width="3.2" fill="none" />
<path d="M1810.9 835.6L1810.9 846.2" stroke="#000" stroke-width="3.2" fill="none" />
<text transform="translate(1700.2 859.6) rotate(-45)" font-size="26.3" text-anchor="end" stroke="#000" stroke-width="0.45">ETV2 only</text>
<text transform="translate(1770.3 860.7) rotate(-45)" font-size="26.3" text-anchor="end" stroke="#000" stroke-width="0.45">ETV2 &amp; REST</text>
<text transform="translate(1829.7 860.5) rotate(-45)" font-size="26.3" text-anchor="end" stroke="#000" stroke-width="0.45">REST only</text>
</g>
<g id="pf">
<text transform="translate(3.7 1100.5)" font-size="45" font-weight="bold">f</text>
<text transform="translate(191 1092.1) scale(1.034 1)" stroke="#000" stroke-width="0.45">D2</text>
<path d="M166.7 1103.6L246.7 1103.6" stroke="#000" stroke-width="2" fill="none" />
<text transform="translate(305 1092) scale(1.045 1)" stroke="#000" stroke-width="0.45">D3 Dox+</text>
<path d="M267 1103.6L459.3 1103.6" stroke="#000" stroke-width="2" fill="none" />
<text transform="translate(159 1137.8) scale(1.044 1)" stroke="#000" stroke-width="0.45">GABPA</text>
<text transform="translate(274.7 1137.8) scale(1.033 1)" stroke="#000" stroke-width="0.45">ETV2</text>
<text transform="translate(370.9 1137.8) scale(1.042 1)" stroke="#000" stroke-width="0.45">GABPA</text>
<rect x="140.3" y="1158" width="11.7" height="295.4" fill="#d9292b"/>
<rect x="164.5" y="1156.4" width="87.5" height="300.4" fill="#fde7dd"/>
<path d="M164.5 1396.5h87.5" stroke="#e0402f" stroke-width="2" opacity="0.13" fill="none"/>
<path d="M164.5 1214.4h87.5" stroke="#e0402f" stroke-width="2.5" opacity="0.21" fill="none"/>
<path d="M164.5 1299.5h87.5" stroke="#e0402f" stroke-width="2" opacity="0.16" fill="none"/>
<path d="M164.5 1200.1h87.5" stroke="#e0402f" stroke-width="1.5" opacity="0.17" fill="none"/>
<path d="M164.5 1412.1h87.5" stroke="#e0402f" stroke-width="3" opacity="0.08" fill="none"/>
<path d="M164.5 1208.3h87.5" stroke="#e0402f" stroke-width="3" opacity="0.19" fill="none"/>
<path d="M164.5 1211.3h87.5" stroke="#e0402f" stroke-width="1.5" opacity="0.13" fill="none"/>
<path d="M164.5 1321.9h87.5" stroke="#e0402f" stroke-width="3" opacity="0.12" fill="none"/>
<path d="M164.5 1218h87.5" stroke="#e0402f" stroke-width="1.5" opacity="0.11" fill="none"/>
<rect x="164.5" y="1156.4" width="87.5" height="300.4" filter="url(#nz3)" opacity="0.42"/>
<linearGradient id="g4" x1="0" x2="1" y1="0" y2="0"><stop offset="0.200" stop-color="#f0694e" stop-opacity="0"/><stop offset="0.360" stop-color="#f0694e" stop-opacity="0.08"/><stop offset="0.430" stop-color="#f0694e" stop-opacity="0.25"/><stop offset="0.470" stop-color="#f0694e" stop-opacity="0.5"/><stop offset="0.500" stop-color="#f0694e" stop-opacity="0.55"/><stop offset="0.530" stop-color="#f0694e" stop-opacity="0.5"/><stop offset="0.570" stop-color="#f0694e" stop-opacity="0.25"/><stop offset="0.640" stop-color="#f0694e" stop-opacity="0.08"/><stop offset="0.800" stop-color="#f0694e" stop-opacity="0"/></linearGradient>
<clipPath id="cg4"><rect x="164.5" y="1156.4" width="87.5" height="300.4"/></clipPath>
<g clip-path="url(#cg4)">
<rect x="164.2" y="1156.2" width="87.5" height="7.9" fill="url(#g4)"/>
<rect x="164.4" y="1163.7" width="87.5" height="7.9" fill="url(#g4)"/>
<rect x="164.5" y="1171.2" width="87.5" height="7.9" fill="url(#g4)"/>
<rect x="164.5" y="1178.7" width="87.5" height="7.9" fill="url(#g4)"/>
<rect x="164.2" y="1186.2" width="87.5" height="7.9" fill="url(#g4)"/>
<rect x="164.5" y="1193.8" width="87.5" height="7.9" fill="url(#g4)"/>
<rect x="164.8" y="1201.3" width="87.5" height="7.9" fill="url(#g4)"/>
<rect x="164.8" y="1208.8" width="87.5" height="7.9" fill="url(#g4)"/>
<rect x="164.8" y="1216.3" width="87.5" height="7.9" fill="url(#g4)"/>
<rect x="164.5" y="1223.8" width="87.5" height="7.9" fill="url(#g4)"/>
<rect x="164.1" y="1231.3" width="87.5" height="7.9" fill="url(#g4)"/>
<rect x="163.9" y="1238.8" width="87.5" height="7.9" fill="url(#g4)"/>
<rect x="164" y="1246.3" width="87.5" height="7.9" fill="url(#g4)"/>
<rect x="163.7" y="1253.8" width="87.5" height="7.9" fill="url(#g4)"/>
<rect x="164" y="1261.3" width="87.5" height="7.9" fill="url(#g4)"/>
<rect x="163.7" y="1268.9" width="87.5" height="7.9" fill="url(#g4)"/>
<rect x="163.7" y="1276.4" width="87.5" height="7.9" fill="url(#g4)"/>
<rect x="163.7" y="1283.9" width="87.5" height="7.9" fill="url(#g4)"/>
<rect x="164.2" y="1291.4" width="87.5" height="7.9" fill="url(#g4)"/>
<rect x="164.4" y="1298.9" width="87.5" height="7.9" fill="url(#g4)"/>
<rect x="164.8" y="1306.4" width="87.5" height="7.9" fill="url(#g4)"/>
<rect x="164.9" y="1313.9" width="87.5" height="7.9" fill="url(#g4)"/>
<rect x="164.4" y="1321.4" width="87.5" height="7.9" fill="url(#g4)"/>
<rect x="164.3" y="1328.9" width="87.5" height="7.9" fill="url(#g4)"/>
<rect x="164.3" y="1336.4" width="87.5" height="7.9" fill="url(#g4)"/>
<rect x="163.9" y="1344" width="87.5" height="7.9" fill="url(#g4)"/>
<rect x="164.3" y="1351.5" width="87.5" height="7.9" fill="url(#g4)"/>
<rect x="164.2" y="1359" width="87.5" height="7.9" fill="url(#g4)"/>
<rect x="163.9" y="1366.5" width="87.5" height="7.9" fill="url(#g4)"/>
<rect x="164.2" y="1374" width="87.5" height="7.9" fill="url(#g4)"/>
<rect x="163.8" y="1381.5" width="87.5" height="7.9" fill="url(#g4)"/>
<rect x="164.2" y="1389" width="87.5" height="7.9" fill="url(#g4)"/>
<rect x="164.2" y="1396.5" width="87.5" height="7.9" fill="url(#g4)"/>
<rect x="164.2" y="1404" width="87.5" height="7.9" fill="url(#g4)"/>
<rect x="164.1" y="1411.5" width="87.5" height="7.9" fill="url(#g4)"/>
<rect x="164.1" y="1419" width="87.5" height="7.9" fill="url(#g4)"/>
<rect x="163.8" y="1426.6" width="87.5" height="7.9" fill="url(#g4)"/>
<rect x="163.7" y="1434.1" width="87.5" height="7.9" fill="url(#g4)"/>
<rect x="164.1" y="1441.6" width="87.5" height="7.9" fill="url(#g4)"/>
<rect x="163.8" y="1449.1" width="87.5" height="7.9" fill="url(#g4)"/>
</g>
<rect x="269.4" y="1156.4" width="87.6" height="300.4" fill="#fde3d8"/>
<path d="M269.4 1396.5h87.6" stroke="#e0402f" stroke-width="2" opacity="0.13" fill="none"/>
<path d="M269.4 1214.4h87.6" stroke="#e0402f" stroke-width="2.5" opacity="0.21" fill="none"/>
<path d="M269.4 1299.5h87.6" stroke="#e0402f" stroke-width="2" opacity="0.16" fill="none"/>
<path d="M269.4 1200.1h87.6" stroke="#e0402f" stroke-width="1.5" opacity="0.17" fill="none"/>
<path d="M269.4 1412.1h87.6" stroke="#e0402f" stroke-width="3" opacity="0.08" fill="none"/>
<path d="M269.4 1208.3h87.6" stroke="#e0402f" stroke-width="3" opacity="0.19" fill="none"/>
<path d="M269.4 1211.3h87.6" stroke="#e0402f" stroke-width="1.5" opacity="0.13" fill="none"/>
<path d="M269.4 1321.9h87.6" stroke="#e0402f" stroke-width="3" opacity="0.12" fill="none"/>
<path d="M269.4 1218h87.6" stroke="#e0402f" stroke-width="1.5" opacity="0.11" fill="none"/>
<rect x="269.4" y="1156.4" width="87.6" height="300.4" filter="url(#nz3)" opacity="0.42"/>
<linearGradient id="g5" x1="0" x2="1" y1="0" y2="0"><stop offset="0.170" stop-color="#b91419" stop-opacity="0"/><stop offset="0.340" stop-color="#b91419" stop-opacity="0.1"/><stop offset="0.420" stop-color="#b91419" stop-opacity="0.27"/><stop offset="0.458" stop-color="#b91419" stop-opacity="0.52"/><stop offset="0.480" stop-color="#b91419" stop-opacity="0.9"/><stop offset="0.500" stop-color="#b91419" stop-opacity="0.97"/><stop offset="0.520" stop-color="#b91419" stop-opacity="0.9"/><stop offset="0.542" stop-color="#b91419" stop-opacity="0.52"/><stop offset="0.580" stop-color="#b91419" stop-opacity="0.27"/><stop offset="0.660" stop-color="#b91419" stop-opacity="0.1"/><stop offset="0.830" stop-color="#b91419" stop-opacity="0"/></linearGradient>
<clipPath id="cg5"><rect x="269.4" y="1156.4" width="87.6" height="300.4"/></clipPath>
<g clip-path="url(#cg5)">
<rect x="270.1" y="1156.2" width="87.6" height="7.1" fill="url(#g5)"/>
<rect x="269.6" y="1162.9" width="87.6" height="7.1" fill="url(#g5)"/>
<rect x="268.8" y="1169.6" width="87.6" height="7.1" fill="url(#g5)"/>
<rect x="269.6" y="1176.2" width="87.6" height="7.1" fill="url(#g5)"/>
<rect x="269.1" y="1182.9" width="87.6" height="7.1" fill="url(#g5)"/>
<rect x="268.5" y="1189.6" width="87.6" height="7.1" fill="url(#g5)"/>
<rect x="268.7" y="1196.3" width="87.6" height="7.1" fill="url(#g5)"/>
<rect x="268.5" y="1202.9" width="87.6" height="7.1" fill="url(#g5)"/>
<rect x="269.1" y="1209.6" width="87.6" height="7.1" fill="url(#g5)"/>
<rect x="268.7" y="1216.3" width="87.6" height="7.1" fill="url(#g5)"/>
<rect x="269.4" y="1223" width="87.6" height="7.1" fill="url(#g5)"/>
<rect x="269.1" y="1229.6" width="87.6" height="7.1" fill="url(#g5)"/>
<rect x="269.3" y="1236.3" width="87.6" height="7.1" fill="url(#g5)"/>
<rect x="270" y="1243" width="87.6" height="7.1" fill="url(#g5)"/>
<rect x="270.2" y="1249.7" width="87.6" height="7.1" fill="url(#g5)"/>
<rect x="270.7" y="1256.3" width="87.6" height="7.1" fill="url(#g5)"/>
<rect x="270.7" y="1263" width="87.6" height="7.1" fill="url(#g5)"/>
<rect x="270" y="1269.7" width="87.6" height="7.1" fill="url(#g5)"/>
<rect x="270.6" y="1276.4" width="87.6" height="7.1" fill="url(#g5)"/>
<rect x="270.7" y="1283" width="87.6" height="7.1" fill="url(#g5)"/>
<rect x="270.4" y="1289.7" width="87.6" height="7.1" fill="url(#g5)"/>
<rect x="269.9" y="1296.4" width="87.6" height="7.1" fill="url(#g5)"/>
<rect x="270.5" y="1303.1" width="87.6" height="7.1" fill="url(#g5)"/>
<rect x="270.6" y="1309.7" width="87.6" height="7.1" fill="url(#g5)"/>
<rect x="270.7" y="1316.4" width="87.6" height="7.1" fill="url(#g5)"/>
<rect x="270.7" y="1323.1" width="87.6" height="7.1" fill="url(#g5)"/>
<rect x="270.7" y="1329.8" width="87.6" height="7.1" fill="url(#g5)"/>
<rect x="270.7" y="1336.4" width="87.6" height="7.1" fill="url(#g5)"/>
<rect x="270.7" y="1343.1" width="87.6" height="7.1" fill="url(#g5)"/>
<rect x="270.7" y="1349.8" width="87.6" height="7.1" fill="url(#g5)"/>
<rect x="270.3" y="1356.5" width="87.6" height="7.1" fill="url(#g5)"/>
<rect x="270.7" y="1363.1" width="87.6" height="7.1" fill="url(#g5)"/>
<rect x="270.4" y="1369.8" width="87.6" height="7.1" fill="url(#g5)"/>
<rect x="270.7" y="1376.5" width="87.6" height="7.1" fill="url(#g5)"/>
<rect x="270.7" y="1383.2" width="87.6" height="7.1" fill="url(#g5)"/>
<rect x="270.7" y="1389.8" width="87.6" height="7.1" fill="url(#g5)"/>
<rect x="270.1" y="1396.5" width="87.6" height="7.1" fill="url(#g5)"/>
<rect x="270.6" y="1403.2" width="87.6" height="7.1" fill="url(#g5)"/>
<rect x="270.7" y="1409.9" width="87.6" height="7.1" fill="url(#g5)"/>
<rect x="270.2" y="1416.5" width="87.6" height="7.1" fill="url(#g5)"/>
<rect x="269.5" y="1423.2" width="87.6" height="7.1" fill="url(#g5)"/>
<rect x="269.6" y="1429.9" width="87.6" height="7.1" fill="url(#g5)"/>
<rect x="268.8" y="1436.6" width="87.6" height="7.1" fill="url(#g5)"/>
<rect x="269.5" y="1443.2" width="87.6" height="7.1" fill="url(#g5)"/>
<rect x="269.5" y="1449.9" width="87.6" height="7.1" fill="url(#g5)"/>
</g>
<rect x="379.3" y="1156.4" width="87.2" height="300.4" fill="#fde2d6"/>
<path d="M379.3 1396.5h87.2" stroke="#e0402f" stroke-width="2" opacity="0.13" fill="none"/>
<path d="M379.3 1214.4h87.2" stroke="#e0402f" stroke-width="2.5" opacity="0.21" fill="none"/>
<path d="M379.3 1299.5h87.2" stroke="#e0402f" stroke-width="2" opacity="0.16" fill="none"/>
<path d="M379.3 1200.1h87.2" stroke="#e0402f" stroke-width="1.5" opacity="0.17" fill="none"/>
<path d="M379.3 1412.1h87.2" stroke="#e0402f" stroke-width="3" opacity="0.08" fill="none"/>
<path d="M379.3 1208.3h87.2" stroke="#e0402f" stroke-width="3" opacity="0.19" fill="none"/>
<path d="M379.3 1211.3h87.2" stroke="#e0402f" stroke-width="1.5" opacity="0.13" fill="none"/>
<path d="M379.3 1321.9h87.2" stroke="#e0402f" stroke-width="3" opacity="0.12" fill="none"/>
<path d="M379.3 1218h87.2" stroke="#e0402f" stroke-width="1.5" opacity="0.11" fill="none"/>
<rect x="379.3" y="1156.4" width="87.2" height="300.4" filter="url(#nz3)" opacity="0.42"/>
<linearGradient id="g6" x1="0" x2="1" y1="0" y2="0"><stop offset="0.150" stop-color="#cc2a1e" stop-opacity="0"/><stop offset="0.330" stop-color="#cc2a1e" stop-opacity="0.1"/><stop offset="0.415" stop-color="#cc2a1e" stop-opacity="0.25"/><stop offset="0.458" stop-color="#cc2a1e" stop-opacity="0.5"/><stop offset="0.482" stop-color="#cc2a1e" stop-opacity="0.85"/><stop offset="0.500" stop-color="#cc2a1e" stop-opacity="0.95"/><stop offset="0.518" stop-color="#cc2a1e" stop-opacity="0.85"/><stop offset="0.542" stop-color="#cc2a1e" stop-opacity="0.5"/><stop offset="0.585" stop-color="#cc2a1e" stop-opacity="0.25"/><stop offset="0.670" stop-color="#cc2a1e" stop-opacity="0.1"/><stop offset="0.850" stop-color="#cc2a1e" stop-opacity="0"/></linearGradient>
<clipPath id="cg6"><rect x="379.3" y="1156.4" width="87.2" height="300.4"/></clipPath>
<g clip-path="url(#cg6)">
<rect x="379.8" y="1156.2" width="87.2" height="7.1" fill="url(#g6)"/>
<rect x="380.3" y="1162.9" width="87.2" height="7.1" fill="url(#g6)"/>
<rect x="380.3" y="1169.6" width="87.2" height="7.1" fill="url(#g6)"/>
<rect x="379.8" y="1176.2" width="87.2" height="7.1" fill="url(#g6)"/>
<rect x="379.9" y="1182.9" width="87.2" height="7.1" fill="url(#g6)"/>
<rect x="379.8" y="1189.6" width="87.2" height="7.1" fill="url(#g6)"/>
<rect x="379.9" y="1196.3" width="87.2" height="7.1" fill="url(#g6)"/>
<rect x="379.4" y="1202.9" width="87.2" height="7.1" fill="url(#g6)"/>
<rect x="379" y="1209.6" width="87.2" height="7.1" fill="url(#g6)"/>
<rect x="379" y="1216.3" width="87.2" height="7.1" fill="url(#g6)"/>
<rect x="378.6" y="1223" width="87.2" height="7.1" fill="url(#g6)"/>
<rect x="378.6" y="1229.6" width="87.2" height="7.1" fill="url(#g6)"/>
<rect x="378.3" y="1236.3" width="87.2" height="7.1" fill="url(#g6)"/>
<rect x="378.3" y="1243" width="87.2" height="7.1" fill="url(#g6)"/>
<rect x="378.6" y="1249.7" width="87.2" height="7.1" fill="url(#g6)"/>
<rect x="378.5" y="1256.3" width="87.2" height="7.1" fill="url(#g6)"/>
<rect x="378.5" y="1263" width="87.2" height="7.1" fill="url(#g6)"/>
<rect x="378.8" y="1269.7" width="87.2" height="7.1" fill="url(#g6)"/>
<rect x="378.6" y="1276.4" width="87.2" height="7.1" fill="url(#g6)"/>
<rect x="378.3" y="1283" width="87.2" height="7.1" fill="url(#g6)"/>
<rect x="378.6" y="1289.7" width="87.2" height="7.1" fill="url(#g6)"/>
<rect x="378.7" y="1296.4" width="87.2" height="7.1" fill="url(#g6)"/>
<rect x="378.9" y="1303.1" width="87.2" height="7.1" fill="url(#g6)"/>
<rect x="379.1" y="1309.7" width="87.2" height="7.1" fill="url(#g6)"/>
<rect x="379.6" y="1316.4" width="87.2" height="7.1" fill="url(#g6)"/>
<rect x="379.5" y="1323.1" width="87.2" height="7.1" fill="url(#g6)"/>
<rect x="379.8" y="1329.8" width="87.2" height="7.1" fill="url(#g6)"/>
<rect x="379.6" y="1336.4" width="87.2" height="7.1" fill="url(#g6)"/>
<rect x="379.7" y="1343.1" width="87.2" height="7.1" fill="url(#g6)"/>
<rect x="379.9" y="1349.8" width="87.2" height="7.1" fill="url(#g6)"/>
<rect x="379.7" y="1356.5" width="87.2" height="7.1" fill="url(#g6)"/>
<rect x="379.2" y="1363.1" width="87.2" height="7.1" fill="url(#g6)"/>
<rect x="379.2" y="1369.8" width="87.2" height="7.1" fill="url(#g6)"/>
<rect x="379.4" y="1376.5" width="87.2" height="7.1" fill="url(#g6)"/>
<rect x="379.5" y="1383.2" width="87.2" height="7.1" fill="url(#g6)"/>
<rect x="379.5" y="1389.8" width="87.2" height="7.1" fill="url(#g6)"/>
<rect x="379.6" y="1396.5" width="87.2" height="7.1" fill="url(#g6)"/>
<rect x="379.3" y="1403.2" width="87.2" height="7.1" fill="url(#g6)"/>
<rect x="378.9" y="1409.9" width="87.2" height="7.1" fill="url(#g6)"/>
<rect x="378.7" y="1416.5" width="87.2" height="7.1" fill="url(#g6)"/>
<rect x="379" y="1423.2" width="87.2" height="7.1" fill="url(#g6)"/>
<rect x="378.7" y="1429.9" width="87.2" height="7.1" fill="url(#g6)"/>
<rect x="378.3" y="1436.6" width="87.2" height="7.1" fill="url(#g6)"/>
<rect x="378.3" y="1443.2" width="87.2" height="7.1" fill="url(#g6)"/>
<rect x="378.3" y="1449.9" width="87.2" height="7.1" fill="url(#g6)"/>
</g>
<path d="M165.4 1458L165.4 1464.8" stroke="#000" stroke-width="2.8" fill="none" />
<path d="M208.9 1458L208.9 1464.8" stroke="#000" stroke-width="2.8" fill="none" />
<path d="M253 1458L253 1464.8" stroke="#000" stroke-width="2.8" fill="none" />
<path d="M269.4 1458L269.4 1464.8" stroke="#000" stroke-width="2.8" fill="none" />
<path d="M312.9 1458L312.9 1464.8" stroke="#000" stroke-width="2.8" fill="none" />
<path d="M357 1458L357 1464.8" stroke="#000" stroke-width="2.8" fill="none" />
<path d="M378.7 1458L378.7 1464.8" stroke="#000" stroke-width="2.8" fill="none" />
<path d="M422 1458L422 1464.8" stroke="#000" stroke-width="2.8" fill="none" />
<path d="M466.5 1458L466.5 1464.8" stroke="#000" stroke-width="2.8" fill="none" />
<text transform="translate(263.2 1484.4) scale(0.961 1)" font-size="25.5" stroke="#000" stroke-width="0.45">-5</text>
<text transform="translate(339.9 1484.4) scale(0.876 1)" font-size="25.5" stroke="#000" stroke-width="0.45">5</text>
<rect x="267" y="1501.5" width="84.3" height="19.5" fill="url(#reds)" stroke="#000" stroke-width="2"/>
<path d="M267.5 1521L267.5 1527.9" stroke="#000" stroke-width="2" fill="none" />
<path d="M300.4 1521L300.4 1527.9" stroke="#000" stroke-width="2" fill="none" />
<path d="M333.6 1521L333.6 1527.9" stroke="#000" stroke-width="2" fill="none" />
<text transform="translate(271.3 1551.5)" font-size="25" text-anchor="middle" stroke="#000" stroke-width="0.45">0</text>
<text transform="translate(305.7 1551.5)" font-size="25" text-anchor="middle" stroke="#000" stroke-width="0.45">20</text>
<text transform="translate(338.8 1551.5)" font-size="25" text-anchor="middle" stroke="#000" stroke-width="0.45">40</text>
<text transform="translate(90 1487) rotate(-90) scale(1.034 1)" font-size="27.5" stroke="#000" stroke-width="0.45">ETV2 &amp; GABPA  co-occupied</text>
<text transform="translate(119.5 1407.8) rotate(-90) scale(1.051 1)" stroke="#000" stroke-width="0.45">de novo regions</text>
<text transform="translate(688.7 1125.6) scale(0.988 1)" font-size="25.8" stroke="#000" stroke-width="0.45">D3 Dox+</text>
<text transform="translate(650 1155.3) scale(0.986 1)" font-size="25.8" stroke="#000" stroke-width="0.45">ETV2 &amp; GABPA</text>
<text transform="translate(577 1185.3) scale(0.980 1)" font-size="25.8" stroke="#000" stroke-width="0.45">co-occupied de novo regions</text>
<circle cx="736.8" cy="1306" r="99.3" fill="#bcbdc0"/>
<clipPath id="pc736"><circle cx="738" cy="1307.4" r="99.6"/></clipPath>
<path d="M738 1307.4L845.3 1307.4A107.3 107.3 0 0 1 750.1 1414Z" fill="#0b9444" stroke="#fff" stroke-width="5" stroke-linejoin="miter" clip-path="url(#pc736)"/>
<text transform="translate(675.4 1291.4)" font-size="29" stroke="#000" stroke-width="0.45">76.8%</text>
<text transform="translate(756 1352.8) scale(1.007 1)" font-size="25" fill="#fff" stroke="#fff" stroke-width="0.45">23.2%</text>
<rect x="584.4" y="1431.7" width="17.4" height="17.3" fill="#bcbdc0"/>
<rect x="584.4" y="1465.2" width="17.4" height="17.1" fill="#0b9444"/>
<text transform="translate(610.2 1448) scale(0.950 1)" font-size="26.8" stroke="#000" stroke-width="0.45">D2 GABPA not occupied</text>
<text transform="translate(610.2 1481.6) scale(0.943 1)" font-size="26.8" stroke="#000" stroke-width="0.45">D2 GABPA occupied</text>
</g>
<g id="pg">
<text transform="translate(1004.8 1098)" font-size="45" font-weight="bold">g</text>
<text transform="translate(1146.7 1095.9) scale(1.023 1)" stroke="#000" stroke-width="0.45">D2</text>
<path d="M1123.4 1105.8L1202.8 1105.8" stroke="#000" stroke-width="2" fill="none" />
<text transform="translate(1268 1095.9) scale(1.044 1)" stroke="#000" stroke-width="0.45">D3 Dox+</text>
<path d="M1229.8 1105.8L1423.2 1105.8" stroke="#000" stroke-width="2" fill="none" />
<text transform="translate(1125.9 1140.9) scale(1.039 1)" stroke="#000" stroke-width="0.45">REST</text>
<text transform="translate(1238.2 1140.9) scale(1.033 1)" stroke="#000" stroke-width="0.45">ETV2</text>
<text transform="translate(1344.7 1140.9) scale(1.018 1)" stroke="#000" stroke-width="0.45">REST</text>
<rect x="1091" y="1160.4" width="12" height="293.3" fill="#d9292b"/>
<rect x="1118" y="1158.6" width="89.2" height="295.7" fill="#fde7dd"/>
<path d="M1118 1276.1h89.2M1118 1289.7h89.2" stroke="#e0402f" stroke-width="2" opacity="0.11" fill="none"/>
<path d="M1118 1343.6h89.2" stroke="#e0402f" stroke-width="1.5" opacity="0.15" fill="none"/>
<path d="M1118 1410.7h89.2" stroke="#e0402f" stroke-width="2" opacity="0.18" fill="none"/>
<path d="M1118 1224.9h89.2M1118 1176.4h89.2" stroke="#e0402f" stroke-width="2" opacity="0.21" fill="none"/>
<path d="M1118 1336.5h89.2" stroke="#e0402f" stroke-width="2.5" opacity="0.14" fill="none"/>
<path d="M1118 1356.7h89.2" stroke="#e0402f" stroke-width="2" opacity="0.1" fill="none"/>
<path d="M1118 1194h89.2" stroke="#e0402f" stroke-width="2.5" opacity="0.2" fill="none"/>
<rect x="1118" y="1158.6" width="89.2" height="295.7" filter="url(#nz3)" opacity="0.42"/>
<linearGradient id="g7" x1="0" x2="1" y1="0" y2="0"><stop offset="0.200" stop-color="#f0694e" stop-opacity="0"/><stop offset="0.360" stop-color="#f0694e" stop-opacity="0.07"/><stop offset="0.430" stop-color="#f0694e" stop-opacity="0.2"/><stop offset="0.470" stop-color="#f0694e" stop-opacity="0.4"/><stop offset="0.500" stop-color="#f0694e" stop-opacity="0.45"/><stop offset="0.530" stop-color="#f0694e" stop-opacity="0.4"/><stop offset="0.570" stop-color="#f0694e" stop-opacity="0.2"/><stop offset="0.640" stop-color="#f0694e" stop-opacity="0.07"/><stop offset="0.800" stop-color="#f0694e" stop-opacity="0"/></linearGradient>
<clipPath id="cg7"><rect x="1118" y="1158.6" width="89.2" height="295.7"/></clipPath>
<g clip-path="url(#cg7)">
<rect x="1117.6" y="1158.4" width="89.2" height="7.8" fill="url(#g7)"/>
<rect x="1117.3" y="1165.8" width="89.2" height="7.8" fill="url(#g7)"/>
<rect x="1117.3" y="1173.2" width="89.2" height="7.8" fill="url(#g7)"/>
<rect x="1117.5" y="1180.6" width="89.2" height="7.8" fill="url(#g7)"/>
<rect x="1117.3" y="1188" width="89.2" height="7.8" fill="url(#g7)"/>
<rect x="1117.3" y="1195.4" width="89.2" height="7.8" fill="url(#g7)"/>
<rect x="1117.3" y="1202.8" width="89.2" height="7.8" fill="url(#g7)"/>
<rect x="1117.5" y="1210.1" width="89.2" height="7.8" fill="url(#g7)"/>
<rect x="1117.3" y="1217.5" width="89.2" height="7.8" fill="url(#g7)"/>
<rect x="1117.5" y="1224.9" width="89.2" height="7.8" fill="url(#g7)"/>
<rect x="1117.6" y="1232.3" width="89.2" height="7.8" fill="url(#g7)"/>
<rect x="1117.3" y="1239.7" width="89.2" height="7.8" fill="url(#g7)"/>
<rect x="1117.4" y="1247.1" width="89.2" height="7.8" fill="url(#g7)"/>
<rect x="1117.3" y="1254.5" width="89.2" height="7.8" fill="url(#g7)"/>
<rect x="1117.3" y="1261.9" width="89.2" height="7.8" fill="url(#g7)"/>
<rect x="1117.7" y="1269.3" width="89.2" height="7.8" fill="url(#g7)"/>
<rect x="1117.4" y="1276.7" width="89.2" height="7.8" fill="url(#g7)"/>
<rect x="1117.3" y="1284.1" width="89.2" height="7.8" fill="url(#g7)"/>
<rect x="1117.7" y="1291.5" width="89.2" height="7.8" fill="url(#g7)"/>
<rect x="1117.6" y="1298.9" width="89.2" height="7.8" fill="url(#g7)"/>
<rect x="1117.3" y="1306.2" width="89.2" height="7.8" fill="url(#g7)"/>
<rect x="1117.3" y="1313.6" width="89.2" height="7.8" fill="url(#g7)"/>
<rect x="1117.3" y="1321" width="89.2" height="7.8" fill="url(#g7)"/>
<rect x="1117.7" y="1328.4" width="89.2" height="7.8" fill="url(#g7)"/>
<rect x="1117.4" y="1335.8" width="89.2" height="7.8" fill="url(#g7)"/>
<rect x="1117.3" y="1343.2" width="89.2" height="7.8" fill="url(#g7)"/>
<rect x="1117.4" y="1350.6" width="89.2" height="7.8" fill="url(#g7)"/>
<rect x="1117.4" y="1358" width="89.2" height="7.8" fill="url(#g7)"/>
<rect x="1117.8" y="1365.4" width="89.2" height="7.8" fill="url(#g7)"/>
<rect x="1118.1" y="1372.8" width="89.2" height="7.8" fill="url(#g7)"/>
<rect x="1118" y="1380.2" width="89.2" height="7.8" fill="url(#g7)"/>
<rect x="1117.7" y="1387.6" width="89.2" height="7.8" fill="url(#g7)"/>
<rect x="1118" y="1395" width="89.2" height="7.8" fill="url(#g7)"/>
<rect x="1118.4" y="1402.4" width="89.2" height="7.8" fill="url(#g7)"/>
<rect x="1118" y="1409.7" width="89.2" height="7.8" fill="url(#g7)"/>
<rect x="1118.2" y="1417.1" width="89.2" height="7.8" fill="url(#g7)"/>
<rect x="1118.5" y="1424.5" width="89.2" height="7.8" fill="url(#g7)"/>
<rect x="1118.6" y="1431.9" width="89.2" height="7.8" fill="url(#g7)"/>
<rect x="1118.4" y="1439.3" width="89.2" height="7.8" fill="url(#g7)"/>
<rect x="1118.7" y="1446.7" width="89.2" height="7.8" fill="url(#g7)"/>
</g>
<rect x="1228.3" y="1158.6" width="88.4" height="295.7" fill="#fde3d8"/>
<path d="M1228.3 1276.1h88.4M1228.3 1289.7h88.4" stroke="#e0402f" stroke-width="2" opacity="0.11" fill="none"/>
<path d="M1228.3 1343.6h88.4" stroke="#e0402f" stroke-width="1.5" opacity="0.15" fill="none"/>
<path d="M1228.3 1410.7h88.4" stroke="#e0402f" stroke-width="2" opacity="0.18" fill="none"/>
<path d="M1228.3 1224.9h88.4M1228.3 1176.4h88.4" stroke="#e0402f" stroke-width="2" opacity="0.21" fill="none"/>
<path d="M1228.3 1336.5h88.4" stroke="#e0402f" stroke-width="2.5" opacity="0.14" fill="none"/>
<path d="M1228.3 1356.7h88.4" stroke="#e0402f" stroke-width="2" opacity="0.1" fill="none"/>
<path d="M1228.3 1194h88.4" stroke="#e0402f" stroke-width="2.5" opacity="0.2" fill="none"/>
<rect x="1228.3" y="1158.6" width="88.4" height="295.7" filter="url(#nz3)" opacity="0.42"/>
<linearGradient id="g8" x1="0" x2="1" y1="0" y2="0"><stop offset="0.180" stop-color="#b91419" stop-opacity="0"/><stop offset="0.350" stop-color="#b91419" stop-opacity="0.09"/><stop offset="0.425" stop-color="#b91419" stop-opacity="0.25"/><stop offset="0.460" stop-color="#b91419" stop-opacity="0.5"/><stop offset="0.480" stop-color="#b91419" stop-opacity="0.9"/><stop offset="0.500" stop-color="#b91419" stop-opacity="0.97"/><stop offset="0.520" stop-color="#b91419" stop-opacity="0.9"/><stop offset="0.540" stop-color="#b91419" stop-opacity="0.5"/><stop offset="0.575" stop-color="#b91419" stop-opacity="0.25"/><stop offset="0.650" stop-color="#b91419" stop-opacity="0.09"/><stop offset="0.820" stop-color="#b91419" stop-opacity="0"/></linearGradient>
<clipPath id="cg8"><rect x="1228.3" y="1158.6" width="88.4" height="295.7"/></clipPath>
<g clip-path="url(#cg8)">
<rect x="1227.8" y="1158.4" width="88.4" height="7" fill="url(#g8)"/>
<rect x="1227.5" y="1165" width="88.4" height="7" fill="url(#g8)"/>
<rect x="1227.4" y="1171.5" width="88.4" height="7" fill="url(#g8)"/>
<rect x="1227.8" y="1178.1" width="88.4" height="7" fill="url(#g8)"/>
<rect x="1227.8" y="1184.7" width="88.4" height="7" fill="url(#g8)"/>
<rect x="1228.1" y="1191.3" width="88.4" height="7" fill="url(#g8)"/>
<rect x="1227.6" y="1197.8" width="88.4" height="7" fill="url(#g8)"/>
<rect x="1227.6" y="1204.4" width="88.4" height="7" fill="url(#g8)"/>
<rect x="1228" y="1211" width="88.4" height="7" fill="url(#g8)"/>
<rect x="1228" y="1217.5" width="88.4" height="7" fill="url(#g8)"/>
<rect x="1228.5" y="1224.1" width="88.4" height="7" fill="url(#g8)"/>
<rect x="1228.9" y="1230.7" width="88.4" height="7" fill="url(#g8)"/>
<rect x="1228.8" y="1237.3" width="88.4" height="7" fill="url(#g8)"/>
<rect x="1228.3" y="1243.8" width="88.4" height="7" fill="url(#g8)"/>
<rect x="1228.5" y="1250.4" width="88.4" height="7" fill="url(#g8)"/>
<rect x="1228.1" y="1257" width="88.4" height="7" fill="url(#g8)"/>
<rect x="1227.6" y="1263.5" width="88.4" height="7" fill="url(#g8)"/>
<rect x="1227.8" y="1270.1" width="88.4" height="7" fill="url(#g8)"/>
<rect x="1228.2" y="1276.7" width="88.4" height="7" fill="url(#g8)"/>
<rect x="1228.6" y="1283.3" width="88.4" height="7" fill="url(#g8)"/>
<rect x="1229.1" y="1289.8" width="88.4" height="7" fill="url(#g8)"/>
<rect x="1228.7" y="1296.4" width="88.4" height="7" fill="url(#g8)"/>
<rect x="1228.3" y="1303" width="88.4" height="7" fill="url(#g8)"/>
<rect x="1227.9" y="1309.5" width="88.4" height="7" fill="url(#g8)"/>
<rect x="1228.4" y="1316.1" width="88.4" height="7" fill="url(#g8)"/>
<rect x="1228" y="1322.7" width="88.4" height="7" fill="url(#g8)"/>
<rect x="1227.6" y="1329.2" width="88.4" height="7" fill="url(#g8)"/>
<rect x="1227.4" y="1335.8" width="88.4" height="7" fill="url(#g8)"/>
<rect x="1227.4" y="1342.4" width="88.4" height="7" fill="url(#g8)"/>
<rect x="1227.4" y="1349" width="88.4" height="7" fill="url(#g8)"/>
<rect x="1227.4" y="1355.5" width="88.4" height="7" fill="url(#g8)"/>
<rect x="1227.4" y="1362.1" width="88.4" height="7" fill="url(#g8)"/>
<rect x="1227.4" y="1368.7" width="88.4" height="7" fill="url(#g8)"/>
<rect x="1227.9" y="1375.2" width="88.4" height="7" fill="url(#g8)"/>
<rect x="1227.5" y="1381.8" width="88.4" height="7" fill="url(#g8)"/>
<rect x="1227.8" y="1388.4" width="88.4" height="7" fill="url(#g8)"/>
<rect x="1228.1" y="1395" width="88.4" height="7" fill="url(#g8)"/>
<rect x="1228.2" y="1401.5" width="88.4" height="7" fill="url(#g8)"/>
<rect x="1228.3" y="1408.1" width="88.4" height="7" fill="url(#g8)"/>
<rect x="1228.5" y="1414.7" width="88.4" height="7" fill="url(#g8)"/>
<rect x="1228.6" y="1421.2" width="88.4" height="7" fill="url(#g8)"/>
<rect x="1228.4" y="1427.8" width="88.4" height="7" fill="url(#g8)"/>
<rect x="1228.2" y="1434.4" width="88.4" height="7" fill="url(#g8)"/>
<rect x="1227.9" y="1441" width="88.4" height="7" fill="url(#g8)"/>
<rect x="1227.8" y="1447.5" width="88.4" height="7" fill="url(#g8)"/>
</g>
<rect x="1337.9" y="1158.6" width="89.1" height="295.7" fill="#fde2d6"/>
<path d="M1337.9 1276.1h89.1M1337.9 1289.7h89.1" stroke="#e0402f" stroke-width="2" opacity="0.11" fill="none"/>
<path d="M1337.9 1343.6h89.1" stroke="#e0402f" stroke-width="1.5" opacity="0.15" fill="none"/>
<path d="M1337.9 1410.7h89.1" stroke="#e0402f" stroke-width="2" opacity="0.18" fill="none"/>
<path d="M1337.9 1224.9h89.1M1337.9 1176.4h89.1" stroke="#e0402f" stroke-width="2" opacity="0.21" fill="none"/>
<path d="M1337.9 1336.5h89.1" stroke="#e0402f" stroke-width="2.5" opacity="0.14" fill="none"/>
<path d="M1337.9 1356.7h89.1" stroke="#e0402f" stroke-width="2" opacity="0.1" fill="none"/>
<path d="M1337.9 1194h89.1" stroke="#e0402f" stroke-width="2.5" opacity="0.2" fill="none"/>
<rect x="1337.9" y="1158.6" width="89.1" height="295.7" filter="url(#nz3)" opacity="0.42"/>
<linearGradient id="g9" x1="0" x2="1" y1="0" y2="0"><stop offset="0.150" stop-color="#cc2a1e" stop-opacity="0"/><stop offset="0.330" stop-color="#cc2a1e" stop-opacity="0.1"/><stop offset="0.415" stop-color="#cc2a1e" stop-opacity="0.25"/><stop offset="0.458" stop-color="#cc2a1e" stop-opacity="0.5"/><stop offset="0.482" stop-color="#cc2a1e" stop-opacity="0.85"/><stop offset="0.500" stop-color="#cc2a1e" stop-opacity="0.95"/><stop offset="0.518" stop-color="#cc2a1e" stop-opacity="0.85"/><stop offset="0.542" stop-color="#cc2a1e" stop-opacity="0.5"/><stop offset="0.585" stop-color="#cc2a1e" stop-opacity="0.25"/><stop offset="0.670" stop-color="#cc2a1e" stop-opacity="0.1"/><stop offset="0.850" stop-color="#cc2a1e" stop-opacity="0"/></linearGradient>
<clipPath id="cg9"><rect x="1337.9" y="1158.6" width="89.1" height="295.7"/></clipPath>
<g clip-path="url(#cg9)">
<rect x="1338" y="1158.4" width="89.1" height="7" fill="url(#g9)"/>
<rect x="1338.1" y="1165" width="89.1" height="7" fill="url(#g9)"/>
<rect x="1338.5" y="1171.5" width="89.1" height="7" fill="url(#g9)"/>
<rect x="1338.2" y="1178.1" width="89.1" height="7" fill="url(#g9)"/>
<rect x="1338.4" y="1184.7" width="89.1" height="7" fill="url(#g9)"/>
<rect x="1338.8" y="1191.3" width="89.1" height="7" fill="url(#g9)"/>
<rect x="1338.8" y="1197.8" width="89.1" height="7" fill="url(#g9)"/>
<rect x="1338.5" y="1204.4" width="89.1" height="7" fill="url(#g9)"/>
<rect x="1338.6" y="1211" width="89.1" height="7" fill="url(#g9)"/>
<rect x="1338.8" y="1217.5" width="89.1" height="7" fill="url(#g9)"/>
<rect x="1338.8" y="1224.1" width="89.1" height="7" fill="url(#g9)"/>
<rect x="1338.8" y="1230.7" width="89.1" height="7" fill="url(#g9)"/>
<rect x="1338.8" y="1237.3" width="89.1" height="7" fill="url(#g9)"/>
<rect x="1338.7" y="1243.8" width="89.1" height="7" fill="url(#g9)"/>
<rect x="1338.8" y="1250.4" width="89.1" height="7" fill="url(#g9)"/>
<rect x="1338.8" y="1257" width="89.1" height="7" fill="url(#g9)"/>
<rect x="1338.6" y="1263.5" width="89.1" height="7" fill="url(#g9)"/>
<rect x="1338.4" y="1270.1" width="89.1" height="7" fill="url(#g9)"/>
<rect x="1338.4" y="1276.7" width="89.1" height="7" fill="url(#g9)"/>
<rect x="1337.9" y="1283.3" width="89.1" height="7" fill="url(#g9)"/>
<rect x="1338" y="1289.8" width="89.1" height="7" fill="url(#g9)"/>
<rect x="1338.3" y="1296.4" width="89.1" height="7" fill="url(#g9)"/>
<rect x="1338.2" y="1303" width="89.1" height="7" fill="url(#g9)"/>
<rect x="1338.6" y="1309.5" width="89.1" height="7" fill="url(#g9)"/>
<rect x="1338.8" y="1316.1" width="89.1" height="7" fill="url(#g9)"/>
<rect x="1338.8" y="1322.7" width="89.1" height="7" fill="url(#g9)"/>
<rect x="1338.8" y="1329.2" width="89.1" height="7" fill="url(#g9)"/>
<rect x="1338.4" y="1335.8" width="89.1" height="7" fill="url(#g9)"/>
<rect x="1337.9" y="1342.4" width="89.1" height="7" fill="url(#g9)"/>
<rect x="1338.4" y="1349" width="89.1" height="7" fill="url(#g9)"/>
<rect x="1338.2" y="1355.5" width="89.1" height="7" fill="url(#g9)"/>
<rect x="1337.9" y="1362.1" width="89.1" height="7" fill="url(#g9)"/>
<rect x="1338.3" y="1368.7" width="89.1" height="7" fill="url(#g9)"/>
<rect x="1338.6" y="1375.2" width="89.1" height="7" fill="url(#g9)"/>
<rect x="1338.2" y="1381.8" width="89.1" height="7" fill="url(#g9)"/>
<rect x="1338" y="1388.4" width="89.1" height="7" fill="url(#g9)"/>
<rect x="1337.7" y="1395" width="89.1" height="7" fill="url(#g9)"/>
<rect x="1337.5" y="1401.5" width="89.1" height="7" fill="url(#g9)"/>
<rect x="1337" y="1408.1" width="89.1" height="7" fill="url(#g9)"/>
<rect x="1337" y="1414.7" width="89.1" height="7" fill="url(#g9)"/>
<rect x="1337" y="1421.2" width="89.1" height="7" fill="url(#g9)"/>
<rect x="1337" y="1427.8" width="89.1" height="7" fill="url(#g9)"/>
<rect x="1337" y="1434.4" width="89.1" height="7" fill="url(#g9)"/>
<rect x="1337" y="1441" width="89.1" height="7" fill="url(#g9)"/>
<rect x="1337" y="1447.5" width="89.1" height="7" fill="url(#g9)"/>
</g>
<path d="M1120.3 1456L1120.3 1461" stroke="#000" stroke-width="2.8" fill="none" />
<path d="M1163.7 1456L1163.7 1461" stroke="#000" stroke-width="2.8" fill="none" />
<path d="M1207.2 1456L1207.2 1461" stroke="#000" stroke-width="2.8" fill="none" />
<path d="M1228.9 1456L1228.9 1461" stroke="#000" stroke-width="2.8" fill="none" />
<path d="M1271.7 1456L1271.7 1461" stroke="#000" stroke-width="2.8" fill="none" />
<path d="M1315.2 1456L1315.2 1461" stroke="#000" stroke-width="2.8" fill="none" />
<path d="M1337.9 1456L1337.9 1461" stroke="#000" stroke-width="2.8" fill="none" />
<path d="M1381.3 1456L1381.3 1461" stroke="#000" stroke-width="2.8" fill="none" />
<path d="M1424.4 1456L1424.4 1461" stroke="#000" stroke-width="2.8" fill="none" />
<text transform="translate(1225 1486) scale(0.969 1)" font-size="25.5" stroke="#000" stroke-width="0.45">-5</text>
<text transform="translate(1301 1486) scale(0.890 1)" font-size="25.5" stroke="#000" stroke-width="0.45">5</text>
<rect x="1228.3" y="1501.5" width="84.7" height="18.9" fill="url(#reds)" stroke="#000" stroke-width="2"/>
<path d="M1228.9 1520.4L1228.9 1527.9" stroke="#000" stroke-width="2" fill="none" />
<path d="M1261.8 1520.4L1261.8 1527.9" stroke="#000" stroke-width="2" fill="none" />
<path d="M1295 1520.4L1295 1527.9" stroke="#000" stroke-width="2" fill="none" />
<text transform="translate(1233 1550.6)" font-size="25" text-anchor="middle" stroke="#000" stroke-width="0.45">0</text>
<text transform="translate(1267.6 1550.6)" font-size="25" text-anchor="middle" stroke="#000" stroke-width="0.45">20</text>
<text transform="translate(1300.9 1550.6)" font-size="25" text-anchor="middle" stroke="#000" stroke-width="0.45">40</text>
<text transform="translate(1049.8 1476) rotate(-90) scale(1.031 1)" font-size="27.5" stroke="#000" stroke-width="0.45">ETV2 &amp; REST co-occupied</text>
<text transform="translate(1078.7 1410.9) rotate(-90) scale(1.051 1)" stroke="#000" stroke-width="0.45">de novo regions</text>
<text transform="translate(1653.5 1124) scale(0.986 1)" font-size="25.8" stroke="#000" stroke-width="0.45">D3 Dox+</text>
<text transform="translate(1622.6 1153.8) scale(0.992 1)" font-size="25.8" stroke="#000" stroke-width="0.45">ETV2 &amp; REST</text>
<text transform="translate(1541.9 1184.7) scale(0.982 1)" font-size="25.8" stroke="#000" stroke-width="0.45">co-occupied de novo regions</text>
<circle cx="1699" cy="1306.6" r="99.6" fill="#bcbdc0"/>
<clipPath id="pc1699"><circle cx="1700.2" cy="1308" r="99.9"/></clipPath>
<path d="M1700.2 1308L1807.8 1308A107.6 107.6 0 0 1 1731.5 1410.9Z" fill="#662d91" stroke="#fff" stroke-width="5" stroke-linejoin="miter" clip-path="url(#pc1699)"/>
<text transform="translate(1641.9 1291.4) scale(1.019 1)" font-size="29" stroke="#000" stroke-width="0.45">79.7%</text>
<text transform="translate(1719.5 1347.3) scale(1.020 1)" font-size="25" fill="#fff" stroke="#fff" stroke-width="0.45">20.3%</text>
<rect x="1550.3" y="1430" width="17.1" height="17.2" fill="#bcbdc0"/>
<rect x="1550.3" y="1463.6" width="17.1" height="17.1" fill="#662d91"/>
<text transform="translate(1575 1446.8) scale(0.953 1)" font-size="26.8" stroke="#000" stroke-width="0.45">D2 REST not occupied</text>
<text transform="translate(1575 1480.1) scale(0.945 1)" font-size="26.8" stroke="#000" stroke-width="0.45">D2 REST occupied</text>
</g>
<g id="ph">
<text transform="translate(3.7 1648)" font-size="45" font-weight="bold">h</text>
<text transform="translate(82.2 1641.9) scale(1.026 1)" font-size="25" stroke="#000" stroke-width="0.45">May, et al.</text>
<text transform="translate(113.3 1668.9) scale(1.010 1)" font-size="25" stroke="#000" stroke-width="0.45">2011</text>
<path d="M106.5 1679.8L170 1679.8" stroke="#000" stroke-width="2.6" fill="none" />
<text transform="translate(241.5 1641.9) scale(1.032 1)" font-size="25" stroke="#000" stroke-width="0.45">Ameen, et al.</text>
<text transform="translate(288.6 1668.9) scale(1.021 1)" font-size="25" stroke="#000" stroke-width="0.45">2022</text>
<path d="M187 1679.8L443.8 1679.8" stroke="#000" stroke-width="2.6" fill="none" />
<rect x="113.3" y="1700" width="55.9" height="206.6" fill="#bebebe"/>
<rect x="113.3" y="1906.6" width="55.9" height="45.2" fill="#00008b"/>
<rect x="182.5" y="1700" width="55.9" height="141.5" fill="#bebebe"/>
<rect x="182.5" y="1841.5" width="55.9" height="110.3" fill="#00008b"/>
<rect x="251.4" y="1700" width="55.9" height="160.5" fill="#bebebe"/>
<rect x="251.4" y="1860.5" width="55.9" height="91.3" fill="#00008b"/>
<rect x="320.3" y="1700" width="55.2" height="177" fill="#bebebe"/>
<rect x="320.3" y="1877" width="55.2" height="74.8" fill="#00008b"/>
<rect x="388.6" y="1700" width="55.8" height="213.5" fill="#bebebe"/>
<rect x="388.6" y="1913.5" width="55.8" height="38.3" fill="#00008b"/>
<rect x="100" y="1687.8" width="355.6" height="275.2" fill="none" stroke="#333" stroke-width="2.2"/>
<path d="M90.6 1700L100 1700" stroke="#333" stroke-width="3" fill="none" />
<text transform="translate(84.4 1708.8)" font-size="25" text-anchor="end" stroke="#000" stroke-width="0.45">100</text>
<path d="M90.6 1763L100 1763" stroke="#333" stroke-width="3" fill="none" />
<text transform="translate(84.4 1771.8)" font-size="25" text-anchor="end" stroke="#000" stroke-width="0.45">75</text>
<path d="M90.6 1826L100 1826" stroke="#333" stroke-width="3" fill="none" />
<text transform="translate(84.4 1834.8)" font-size="25" text-anchor="end" stroke="#000" stroke-width="0.45">50</text>
<path d="M90.6 1888.6L100 1888.6" stroke="#333" stroke-width="3" fill="none" />
<text transform="translate(84.4 1897.4)" font-size="25" text-anchor="end" stroke="#000" stroke-width="0.45">25</text>
<path d="M90.6 1951.6L100 1951.6" stroke="#333" stroke-width="3" fill="none" />
<text transform="translate(84.4 1960.4)" font-size="25" text-anchor="end" stroke="#000" stroke-width="0.45">0</text>
<text transform="translate(40.3 1915) rotate(-90) scale(0.996 1)" font-size="26" stroke="#000" stroke-width="0.45">percentage (%)</text>
<clipPath id="hcl"><rect x="100" y="1688" width="355.6" height="275"/></clipPath><g clip-path="url(#hcl)">
<text transform="translate(141.2 1925.3) scale(0.860 1)" font-size="22" text-anchor="middle" fill="#fff" stroke="#fff" stroke-width="0.45">17.9</text>
<text transform="translate(141.2 1948.2) scale(0.860 1)" font-size="22" text-anchor="middle" fill="#fff" stroke="#fff" stroke-width="0.45">(32)</text>
<text transform="translate(210.4 1900.4) scale(0.860 1)" font-size="22" text-anchor="middle" fill="#fff" stroke="#fff" stroke-width="0.45">44.1</text>
<text transform="translate(210.4 1924.3) scale(0.860 1)" font-size="22" text-anchor="middle" fill="#fff" stroke="#fff" stroke-width="0.45">(116)</text>
<text transform="translate(279.3 1909.7) scale(0.860 1)" font-size="22" text-anchor="middle" fill="#fff" stroke="#fff" stroke-width="0.45">36.3</text>
<text transform="translate(279.3 1933.6) scale(0.860 1)" font-size="22" text-anchor="middle" fill="#fff" stroke="#fff" stroke-width="0.45">(268)</text>
<text transform="translate(348 1916.6) scale(0.860 1)" font-size="22" text-anchor="middle" fill="#fff" stroke="#fff" stroke-width="0.45">29.9</text>
<text transform="translate(348 1939.9) scale(0.860 1)" font-size="22" text-anchor="middle" fill="#fff" stroke="#fff" stroke-width="0.45">(140)</text>
<text transform="translate(416.5 1929.6) scale(0.860 1)" font-size="22" text-anchor="middle" fill="#fff" stroke="#fff" stroke-width="0.45">15.3</text>
<text transform="translate(416.5 1952.3) scale(0.860 1)" font-size="22" text-anchor="middle" fill="#fff" stroke="#fff" stroke-width="0.45">(135)</text>
</g>
<text transform="translate(145.9 1902.6) rotate(-90) scale(0.959 1)" font-size="22.5" stroke="#000" stroke-width="0.45">p = 0.005</text>
<text transform="translate(219.4 1837.4) rotate(-90) scale(0.956 1)" font-size="22.5" stroke="#000" stroke-width="0.45">p = 3.106e-42</text>
<text transform="translate(283 1857) rotate(-90) scale(0.963 1)" font-size="22.5" stroke="#000" stroke-width="0.45">p = 4.001e-74</text>
<text transform="translate(354.4 1870.6) rotate(-90) scale(0.968 1)" font-size="22.5" stroke="#000" stroke-width="0.45">p = 4.566e-29</text>
<text transform="translate(423.6 1903.5) rotate(-90) scale(0.964 1)" font-size="22.5" stroke="#000" stroke-width="0.45">p = 3.857e-05</text>
<path d="M141.2 1963L141.2 1972.4" stroke="#333" stroke-width="3" fill="none" />
<path d="M210.1 1963L210.1 1972.4" stroke="#333" stroke-width="3" fill="none" />
<path d="M278.4 1963L278.4 1972.4" stroke="#333" stroke-width="3" fill="none" />
<path d="M347 1963L347 1972.4" stroke="#333" stroke-width="3" fill="none" />
<path d="M415.9 1963L415.9 1972.4" stroke="#333" stroke-width="3" fill="none" />
<text transform="translate(136.6 1983.5) rotate(-90) scale(1.035 1)" font-size="25" text-anchor="end" stroke="#000" stroke-width="0.45">VISTA enhancer</text>
<text transform="translate(167.6 1983.5) rotate(-90) scale(0.970 1)" font-size="25" text-anchor="end" stroke="#000" stroke-width="0.45">(n = 178)</text>
<text transform="translate(205.4 1983.5) rotate(-90) scale(1.035 1)" font-size="25" text-anchor="end" stroke="#000" stroke-width="0.45">early CM</text>
<text transform="translate(236.4 1983.5) rotate(-90) scale(0.970 1)" font-size="25" text-anchor="end" stroke="#000" stroke-width="0.45">(n = 263)</text>
<text transform="translate(274.2 1983.5) rotate(-90) scale(1.035 1)" font-size="25" text-anchor="end" stroke="#000" stroke-width="0.45">CM</text>
<text transform="translate(305.2 1983.5) rotate(-90) scale(0.970 1)" font-size="25" text-anchor="end" stroke="#000" stroke-width="0.45">(n = 738)</text>
<text transform="translate(343 1983.5) rotate(-90) scale(1.035 1)" font-size="25" text-anchor="end" stroke="#000" stroke-width="0.45">D5 CP</text>
<text transform="translate(374 1983.5) rotate(-90) scale(0.970 1)" font-size="25" text-anchor="end" stroke="#000" stroke-width="0.45">(n = 468)</text>
<text transform="translate(411.8 1983.5) rotate(-90) scale(1.035 1)" font-size="25" text-anchor="end" stroke="#000" stroke-width="0.45">D15 D30 CM</text>
<text transform="translate(442.8 1983.5) rotate(-90) scale(0.970 1)" font-size="25" text-anchor="end" stroke="#000" stroke-width="0.45">(n = 882)</text>
<path d="M181.6 2150.9L301.7 2150.9" stroke="#000" stroke-width="2.6" fill="none" />
<path d="M317.2 2150.9L437.6 2150.9" stroke="#000" stroke-width="2.6" fill="none" />
<text transform="translate(185.6 2181.8) scale(1.004 1)" font-size="25.5" stroke="#000" stroke-width="0.45">fetal heart</text>
<text transform="translate(329.6 2181.8) scale(0.958 1)" font-size="25.5" stroke="#000" stroke-width="0.45">iPSC-CM</text>
<text transform="translate(465.2 2104.7)" font-size="26" stroke="#000" stroke-width="0.45">ETV2&amp;REST</text>
<rect x="465.2" y="2119.6" width="21.2" height="20.4" fill="#bebebe"/>
<rect x="465.2" y="2152.3" width="21.2" height="20.5" fill="#00008b"/>
<text transform="translate(491.2 2139.4) scale(0.961 1)" font-size="26" stroke="#000" stroke-width="0.45">not occupied</text>
<text transform="translate(491.2 2171.8) scale(0.942 1)" font-size="26" stroke="#000" stroke-width="0.45">occupied</text>
</g>
<g id="pi">
<text transform="translate(543.6 1646.6)" font-size="45" font-weight="bold">i</text>
<rect x="892.7" y="1639" width="14.6" height="15.7" fill="#f9a3a6"/>
<text transform="translate(915.9 1654.4) scale(0.991 1)" font-size="24.5" stroke="#000" stroke-width="0.45">Promoter</text>
<rect x="1073.3" y="1639" width="14.9" height="15.7" fill="#a9d8f2"/>
<text transform="translate(1100.2 1654.4) scale(1.030 1)" font-size="24.5" stroke="#000" stroke-width="0.45">Distal</text>
<text transform="translate(1147.7 1693.4) scale(0.979 1)" font-size="25.5" stroke="#000" stroke-width="0.45">25kb</text>
<path d="M1144.2 1705.3L1191.9 1705.3" stroke="#000" stroke-width="3" fill="none" />
<text transform="translate(1407.9 1695) scale(0.965 1)" font-size="25.5" stroke="#000" stroke-width="0.45">5kb</text>
<path d="M1409.6 1707L1449.6 1707" stroke="#000" stroke-width="3" fill="none" />
<rect x="851.4" y="1725.2" width="7.2" height="287.3" fill="#cfe8f6"/>
<rect x="889.1" y="1725.2" width="6.7" height="287.3" fill="#cfe8f6"/>
<rect x="949.4" y="1725.2" width="12.2" height="287.3" fill="#cfe8f6"/>
<rect x="1054.2" y="1725.2" width="33.5" height="287.3" fill="#cfe8f6"/>
<rect x="1157.9" y="1725.2" width="26.5" height="287.3" fill="#cfe8f6"/>
<rect x="1276.8" y="1725.2" width="13.2" height="287.3" fill="#cfe8f6"/>
<rect x="861" y="1725.2" width="11.2" height="287.3" fill="#fac8cb"/>
<rect x="1402.2" y="1725.2" width="9.9" height="301.8" fill="#fac8cb"/>
<path d="M1207.3 1727.4L1207.3 2037.3" stroke="#8c8c8c" stroke-width="3.2" fill="none" stroke-linecap="round"/>
<text transform="translate(608.3 1757.4) scale(0.939 1)" font-size="28.5" stroke="#000" stroke-width="0.45">D2</text>
<path d="M666.9 1721.7L666.9 1769.5" stroke="#000" stroke-width="3" fill="none" />
<text transform="translate(675.5 1757.4) scale(1.013 1)" font-size="28.5" stroke="#000" stroke-width="0.45">GABPA</text>
<text transform="translate(551.3 1851.2) scale(0.983 1)" font-size="28.5" stroke="#000" stroke-width="0.45">D3 Dox+</text>
<path d="M666.9 1795.2L666.9 1897.3" stroke="#000" stroke-width="3" fill="none" />
<text transform="translate(692 1823) scale(0.977 1)" font-size="28.5" stroke="#000" stroke-width="0.45">ETV2</text>
<text transform="translate(678.2 1882.8) scale(1.015 1)" font-size="28.5" stroke="#000" stroke-width="0.45">GABPA</text>
<text transform="translate(534.8 1968.5) scale(0.993 1)" font-size="28.5" stroke="#000" stroke-width="0.45">D3.5 Dox-</text>
<text transform="translate(559.1 2001.5) scale(0.919 1)" font-size="28.5" stroke="#000" stroke-width="0.45">FLK1</text>
<text transform="translate(627.8 1990.5) scale(0.832 1)" font-size="18.5" stroke="#000" stroke-width="0.45">+</text>
<path d="M666.9 1917.2L666.9 2014.2" stroke="#000" stroke-width="3" fill="none" />
<text transform="translate(692 1946.8) scale(0.977 1)" font-size="28.5" stroke="#000" stroke-width="0.45">ETV2</text>
<text transform="translate(678.2 2005) scale(1.015 1)" font-size="28.5" stroke="#000" stroke-width="0.45">GABPA</text>
<path d="M783 1772.8v-9h1v4h2v1h1v2h1v-1h1v1h1v-7h1v6h2v-3h1v1h1v-3h2v6h1v-1h2v1h1v-6h1v4h2v2h2v-2h2v-6h1v-1h1v3h2v6h1v-1h1v1h1v-2h3v-1h1v-2h1v2h1v-2h1v1h2v3h3v1h1v-1h1v-1h1v-1h4v-5h1v-3h1v11h2v-5h2v2h1v1h1v-1h1v-5h1v2h1v-1h2v3h1v2h1v1h1v-2h1v1h1v-3h3v2h1v2h1v1h1v-2h1v-5h1v-1h1v2h1v-1h1v7h1v-1h1v-2h1v-4h1v-2h1v1h1v5h1v1h1v1h2v-6h1v2h1v5h1v-1h2v-8h1v8h3v-7h3v2h1v4h2v2h1v-1h2v1h2v-3h1v2h2v1h1v-7h1v-1h1v7h1v1h1v-1h1v-2h1v-1h1v2h1v-1h1v1h1v2h2v-4h2v1h1v3h1v-1h1v-3h2v3h1v-7h1v8h1v-3h1v-1h2v1h1v2h1v-5h1v5h1v-5h2v2h1v1h1v2h1v1h1v-1h1v-6h1v5h1v1h2v3h2v-9h2v1h1v2h2v3h1v-1h4v-1h1v-3h1v2h1v3h1v1h1v-1h1v1h1v-1h1v-6h1v2h1v2h1v1h2v-3h1v-3h1v2h1v5h1v-1h2v2h1v-1h1v1h1v-1h1v-6h1v-2h1v1h1v4h1v-1h1v1h1v-1h1v3h1v1h1v-2h1v1h2v-1h1v-2h1v1h1v-2h1v2h1v1h1v1h2v-5h2v2h1v4h1v1h1v-1h1v-4h1v1h1v-1h2v1h1v1h2v-7h1v-2h2v6h2v1h2v3h1v1h2v-2h1v-2h1v-3h2v-1h1v8h6v-1h2v1h1v-7h1v1h1v4h1v-2h1v-2h1v-2h1v1h1v7h1v-1h1v1h1v-5h2v2h1v-3h1v1h1v-1h1v3h3v-1h2v1h1v1h1v-2h1v2h2v-1h1v3h3v-2h1v-2h1v1h1v-2h1v-3h1v4h1v2h1v-4h2v-2h1v8h1v-1h3v2h1v-1h4v-2h1v-1h1v-1h1v4h5v1h2v-7h1v7h1v-1h3v-3h2v1h1v-1h1v1h2v2h5v-1h2v-3h1v-2h1v3h1v1h2v-1h1v-2h1v1h1v1h1v-3h1v-3h1v10h2v-7h1v6h8v-5h1v1h1v-1h1v3h1v2h1v1h2v-1h6v3h1v-10h1v5h1v-1h2v1h1v1h1v-1h1v2h2v-5h1v2h1v1h1v1h2v1h1v-1h1v1h1v3h1v-4h1v1h3v-2h1v-1h1v1h1v-2h2v-1h1v1h1v1h1v-1h1v5h2v-1h1v1h3v-1h2v1h1v-3h1v-5h1v3h1v-2h1v1h1v1h1v-3h1v7h2v1h1v-9h2v1h1v7h3v-7h1v10z" fill="#a5522d"/>
<path d="M1213 1772.8v-2h4v2h4v-6h1v6h1v-7h2v1h1v1h1v-1h2v6h5v-2h3v-5h1v1h1v-2h1v-1h1v-1h1v7h1v-1h1v-8h1v-7h1v-4h1v1h1v3h1v-2h1v11h1v2h1v1h1v-2h2v7h1v-6h1v8h5v-3h1v-1h2v1h1v-1h1v2h1v-3h1v3h2v-1h1v1h1v-2h3v1h2v1h4v-6h1v-5h1v2h1v7h1v2h2v2h4v-2h1v-8h1v-5h1v-4h1v12h2v-1h1v6h4v2h4v-2h11v-6h1v1h1v7h3v-5h1v1h1v4h5v-5h4v-3h1v1h1v7h4v-8h4v6h3v-7h1v1h1v6h1v-1h1v1h5v2h5v-4h1v-1h2v5h7v-2h1v-1h1v-5h1v1h2v1h2v1h2v-1h1v-1h3v1h1v2h1v1h1v2h2v-1h1v-17h1v-5h1v-4h1v21h2v-1h1v-1h1v9h2v-2h5v-5h3v7h2v-7h1v5h2v-3h1v-5h1v-1h1v2h1v3h1v1h3v3h3v2h4v-6h1v6h4v-4h2v1h2v1h5v-2h3v4h4v-3h1v-3h4v4h1v2z" fill="#a5522d"/>
<path d="M783 1837.9v-1h5v-2h4v-2h1v-4h1v-2h1v6h1v1h2v2h3v2h1v-1h1v-3h1v3h1v-4h1v-4h1v2h1v4h1v1h1v-1h1v1h2v2h1v-5h1v1h1v1h1v-1h2v4h6v-3h1v-1h2v1h2v-1h5v3h1v-1h2v1h6v-1h1v-1h1v1h3v1h1v-1h1v-6h1v-10h1v-10h1v-4h1v6h1v12h1v9h1v1h1v-11h1v-7h1v2h1v15h1v1h1v-8h1v-11h1v-12h1v-3h1v2h1v14h1v13h1v6h1v2h9v-1h1v1h3v-4h3v1h1v2h1v-5h1v-6h1v-3h1v8h1v7h7v-1h1v1h4v1h3v-1h6v-1h1v-1h3v1h1v1h4v-2h1v2h4v-2h2v2h3v-2h1v1h11v2h4v-1h1v-6h1v-13h1v-12h1v-4h1v7h1v6h1v-15h1v4h1v16h1v14h1v3h1v-2h1v1h2v-1h2v1h2v-1h1v1h2v-1h1v-1h1v1h2v2h3v-2h1v-1h2v1h1v1h2v-1h2v3h2v-3h1v1h2v-2h1v4h4v-1h8v-3h3v1h1v-1h1v2h2v1h4v-2h2v1h1v1h1v-1h2v-1h2v1h3v2h5v-2h1v1h2v-1h4v-1h1v-1h1v1h2v-1h1v4h4v-1h5v-1h1v1h1v-1h1v-2h1v-12h1v-19h1v1h1v10h1v14h1v8h1v1h3v-3h1v-3h1v-13h1v-7h1v-5h1v3h1v12h1v11h1v5h1v-1h1v-1h1v-11h1v-3h1v2h1v5h1v-1h1v1h1v-2h1v2h1v5h1v4h1v1h3v-5h1v1h2v1h1v-1h3v3h10v1h2v-1h4v-2h4v2h3v-1h2v1h7v-2h3v-1h1v1h1v3h2v-1h3v-2h2v2h4v-3h1v-16h1v-28h1v7h1v-6h1v27h1v15h1v1h4v3h5v-1h1v-5h1v-13h1v-6h1v3h1v5h1v11h1v3h1v1h6v-5h1v-26h1v-3h2v28h1v8h1v-2h2v-1h2v3h4v-1h3v1h6v-1h1v2z" fill="#f78a1a"/>
<path d="M1213 1837.9v-15h1v3h1v3h1v7h1v2h10v-3h2v-2h2v3h1v-3h3v1h1v2h5v-1h3v-6h1v-8h1v-2h2v10h1v-1h2v7h1v3h3v-2h2v1h1v-1h1v1h1v-3h1v2h1v1h1v-1h2v1h1v-2h1v1h4v-1h1v-1h1v3h2v-1h1v1h1v-4h3v-19h1v-18h1v-5h1v10h1v-7h2v-1h1v1h1v18h1v21h1v-2h3v1h1v1h1v2h3v1h3v-2h1v-1h1v-1h1v6h5v-1h1v-4h2v1h1v3h3v-1h2v-2h1v1h1v-1h1v2h1v1h2v-1h1v1h1v-1h1v1h1v-1h5v1h1v-1h3v1h1v-1h8v-1h3v1h1v-1h2v1h3v-2h1v1h1v-2h1v1h1v1h2v2h1v-1h3v1h2v-4h1v4h2v-1h2v2h4v-2h8v1h1v-1h1v-1h2v-2h1v-4h1v-6h1v-2h1v2h1v4h1v2h2v1h2v-1h2v-2h1v-8h1v-4h1v-2h1v9h1v-10h1v-2h1v4h1v10h1v7h1v4h1v-4h1v-4h1v-1h1v1h1v-1h1v4h1v4h1v1h2v1h1v-1h3v1h1v1h1v-1h2v-2h1v1h1v-1h3v-2h2v2h1v2h1v-1h1v1h2v1h1v-3h1v-9h1v-2h1v1h1v5h1v6h4v1h3v1h1v1z" fill="#f78a1a"/>
<path d="M783 1901.2h2v-8h1v1h1v7h2v-2h6v2h5v-10h2v8h1v-4h1v-6h2v-2h1v6h1v3h1v-5h1v-2h1v-3h1v1h1v14h4v-2h1v-9h1v-1h1v1h1v7h1v-1h1v2h3v-1h1v-6h2v-3h1v10h2v-1h2v2h4v-7h1v-1h1v1h1v-1h1v-1h1v2h1v-13h1v-7h1v11h1v15h1v-9h2v-5h1v10h1v-2h1v-5h2v3h1v1h1v1h2v7h1v-3h1v-7h1v-9h1v-10h1v2h2v-21h1v9h1v2h1v20h1v12h1v6h1v1h1v-10h1v-4h2v1h1v10h1v1h1v-1h1v-4h1v-13h1v3h1v6h1v9h1v-1h2v1h2v-4h1v-3h1v-11h1v-1h1v9h1v10h1v2h4v-2h2v-1h1v1h2v-8h1v-4h1v1h1v1h1v-1h1v3h1v4h1v2h1v2h1v-1h1v3h1v-2h4v-5h1v-3h1v2h1v4h2v-8h2v-3h1v1h1v1h1v1h1v-1h1v10h2v1h6v-11h1v2h1v-3h1v6h1v-4h1v-2h2v1h1v5h1v4h1v3h1v-8h1v-5h1v-24h1v-5h1v-8h1v26h1v-8h1v-9h1v1h1v14h1v17h1v-4h1v-2h1v3h1v3h1v-1h1v-1h1v3h1v-2h1v-1h1v10h2v-1h2v1h4v2h4v-7h2v2h1v-1h1v6h4v-2h4v-10h1v1h1v-4h1v4h1v11h2v-2h2v-5h1v-3h1v1h1v2h1v5h1v-5h1v-1h1v-1h1v1h2v-2h1v8h2v2h3v-8h1v-1h1v7h1v-13h1v1h1v-1h1v6h1v-1h1v-3h1v3h1v2h1v-1h1v-1h1v10h2v-6h1v-1h1v2h1v-2h1v7h3v-3h4v3h3v-14h1v2h1v-4h1v-2h1v16h4v-2h1v-8h1v-11h1v-3h1v1h1v1h1v6h1v8h3v-1h1v-3h1v-9h1v-2h1v-1h1v-3h1v8h1v8h1v4h1v5h1v2h2v-8h3v-2h1v-5h1v1h1v4h1v9h1v1h1v-11h1v-3h1v3h1v9h1v1h1v-8h1v1h2v-3h1v3h1v10h1v-2h6v-9h1v-4h1v2h2v4h2v7h2v2h3v-14h1v-2h1v-1h1v3h1v12h3v-7h3v1h1v6h3v2h2v-2h14v-2h1v-4h1v-6h1v2h1v1h1v5h1v3h2v3h2v-9h1v1h1v4h1v4h2v-6h1v-2h1v-6h1v-9h1v-7h1v-3h1v8h1v10h1v9h2v-1h2v7h2v-2h2v-3h1v-4h1v-6h1v1h1v-3h1v1h1v8h1v3h1v3h1v2h6v-8h1v-1h2v9h2v-2h1v-2h1v1h1v-7h1v10z" fill="#4db04a"/>
<path d="M1213 1901.2v-13h1v1h2v7h1v1h1v-1h2v-1h1v4h2v-5h1v5h5v-1h4v-7h1v3h1v-1h1v1h1v5h5v-1h1v-1h1v-5h1v-10h1v-11h1v-7h1v6h1v3h1v17h1v6h1v3h6v-2h1v2h7v-3h1v1h1v2h4v-4h1v2h1v-2h1v2h1v-2h1v4h1v-1h1v1h2v-4h1v-8h1v-8h1v2h1v3h1v10h1v4h1v1h1v-2h1v-6h1v-6h1v-3h2v2h1v-3h1v-3h1v4h1v7h1v7h1v-1h1v4h2v-6h1v1h1v2h3v-4h1v1h1v-2h2v3h1v-3h2v1h1v1h1v1h1v5h4v-1h2v3h1v-2h1v-2h1v1h2v-1h1v1h2v1h3v-1h1v1h5v-9h1v1h1v8h7v-7h1v2h1v4h2v1h1v-1h1v3h3v-3h1v1h3v-4h1v1h2v1h1v1h1v1h5v-5h2v1h1v-3h1v1h2v6h4v-3h1v2h2v1h1v-1h1v-5h1v-8h1v-9h1v-3h1v-6h1v9h1v15h2v1h1v-3h1v2h2v1h1v-2h1v-5h1v-9h1v-8h1v1h2v6h1v10h1v8h1v4h2v-8h1v-9h1v-1h2v5h1v9h1v6h1v-1h1v1h1v-1h2v1h5v-5h1v2h1v-1h1v-1h1v5h3v-3h1v1h1v-2h1v3h3v1h1v-2h1v1h1v-6h1v3h1v-1h1v-1h1v5h2v1h3v-6h1v8z" fill="#4db04a"/>
<path d="M783 1966v-10h1v2h4v-1h1v4h1v2h2v-3h1v-4h1v-1h1v2h2v-3h1v-1h1v1h2v-1h1v2h1v8h1v-1h1v4h2v-3h1v-1h2v1h3v-8h1v-1h1v3h1v5h2v-3h1v4h2v-5h1v1h1v4h1v-1h2v-2h1v-3h1v4h2v1h1v-2h1v1h1v1h1v1h2v1h1v-10h1v3h1v-2h1v2h1v-1h1v5h1v-1h2v2h1v-2h1v3h2v1h1v-11h1v5h1v-15h1v-11h1v2h1v-2h1v18h1v10h1v-5h1v-5h1v-3h1v1h1v7h1v-4h1v-20h1v-15h1v-6h2v21h1v7h1v19h1v4h4v1h1v-6h1v-2h1v2h1v7h1v-1h1v1h1v-2h1v1h1v-10h1v11h1v-7h1v-2h1v7h2v1h2v1h2v-4h1v1h1v-6h1v1h1v-2h1v10h1v-9h1v1h1v8h2v-5h1v5h1v-1h2v1h1v-1h1v-4h1v-1h1v6h1v-4h1v-3h1v-2h1v4h1v3h1v1h1v1h1v-2h1v1h1v-1h1v-6h1v3h1v-3h1v-4h1v2h1v-1h1v3h1v8h2v1h1v-2h2v-1h1v-7h1v2h1v-1h1v2h1v2h1v-7h1v6h1v-2h2v-2h1v-2h1v8h2v-1h1v-2h1v-7h1v-16h1v-12h2v5h1v8h1v-5h1v-3h1v13h1v15h1v7h1v1h2v-4h1v-9h1v9h1v1h1v2h1v1h2v-1h2v-7h1v1h1v2h1v-1h1v6h1v-3h1v-1h1v4h1v-1h1v-4h1v-2h1v3h1v4h1v-5h1v-1h1v9h3v-4h2v-2h1v1h1v1h2v-5h1v2h1v3h1v1h5v-5h1v-3h2v1h1v7h1v-1h1v1h1v-1h1v1h1v-9h1v-2h1v1h1v2h1v-3h1v3h1v1h1v-3h2v6h1v1h1v-1h1v3h1v1h8v-4h1v-1h2v5h3v-7h3v3h1v1h1v-3h1v-1h2v1h2v3h2v3h1v-8h1v-5h1v3h1v-5h1v-8h1v-2h1v4h1v14h1v1h1v-1h1v-2h1v5h2v-6h1v-14h1v-4h1v-2h1v4h1v4h1v13h1v7h1v-1h1v-4h1v-8h1v-2h1v1h1v6h1v4h2v6h1v-1h1v-6h2v-1h1v-3h1v10h1v-2h1v3h3v-8h1v8h3v-1h1v-5h1v1h1v-4h1v2h1v-3h1v10h1v-1h1v-6h1v1h1v5h1v-8h2v-2h1v11h2v-1h2v1h1v-1h1v-6h1v-1h2v3h1v4h1v-3h1v-3h1v7h6v-1h1v-5h3v6h1v-3h1v1h1v2h4v-7h1v-1h1v1h1v-4h1v-9h1v-11h1v-1h1v-1h1v13h1v10h1v6h2v-4h1v1h1v1h1v6h2v-6h1v-2h1v1h1v-5h1v-13h1v-8h1v2h1v11h1v10h1v4h1v-2h1v2h1v3h2v2h3v-4h1v-6h1v-8h1v4h1v1h1v9h1v6h1v-5h1v-4h1v1h1v-2h3v-2h1v-1h2v7h1v5h1v-1h1v1h1v-1h1v-1h1v2h1v3z" fill="#d95f0e"/>
<path d="M1213 1966v-21h1v-11h1v-2h1v5h1v4h1v13h1v4h1v-3h1v1h1v-1h1v1h1v1h1v2h1v-1h1v2h1v1h1v-7h1v-4h1v-1h1v-3h1v11h1v6h1v-5h1v2h2v3h2v-1h1v1h2v-6h1v-5h1v-20h1v-2h1v4h1v3h1v2h1v-5h1v15h1v3h1v8h1v-5h2v-4h1v12h1v-6h1v4h1v1h2v-4h1v-1h1v2h1v-2h1v2h1v-8h1v2h1v-1h1v10h1v1h1v-1h1v-2h1v1h1v-2h2v-6h1v2h2v-21h1v-15h1v3h1v-10h1v2h1v-4h2v17h1v33h1v3h2v-1h1v1h3v-5h1v-1h1v2h1v4h2v-1h1v1h1v-4h1v1h2v3h1v3h1v-4h1v1h3v-1h1v1h1v-2h2v-2h2v-1h1v4h3v-3h1v-2h1v3h1v-1h1v4h2v-1h1v2h1v-8h1v2h1v2h2v2h2v1h2v-4h1v4h1v-1h1v-6h1v-1h1v1h1v1h1v-1h1v-2h1v8h1v-2h1v-5h1v-2h1v3h1v-1h1v8h2v-3h1v3h3v-2h1v1h1v-7h1v2h1v-3h1v6h1v-1h1v3h1v1h6v-1h2v-6h1v7h1v-1h1v1h1v-2h1v-1h1v2h1v-9h1v1h1v8h3v-4h1v-1h1v-3h1v-8h1v-7h1v-9h1v5h1v7h1v12h1v7h1v-5h3v-4h2v-1h1v5h1v3h1v-5h1v-4h1v-1h1v1h1v3h1v3h1v-6h1v-1h1v2h1v2h1v5h1v5h4v-11h1v1h1v2h1v7h3v2h1v-2h1v1h1v1h1v-1h2v-12h3v12h1v3h3v-10h1v6h2v1h1v1h2v-7h1v-2h1v8h2v-8h1v1h1v-1h2v-1h1v9h1v3z" fill="#d95f0e"/>
<path d="M783 2027.3v-10h1v5h3v1h4v-1h2v-5h1v2h1v-1h1v2h1v-17h1v-5h1v2h1v20h1v1h1v-1h1v2h1v-2h1v-1h1v-1h2v-4h1v5h1v-1h1v1h1v4h3v-1h1v1h2v-5h3v4h1v-6h1v4h1v-1h1v1h1v-3h1v-7h1v-2h1v5h1v2h1v8h2v1h1v-3h1v-1h2v-1h1v3h1v1h1v-1h1v1h3v-9h1v1h1v4h1v1h1v2h1v-1h1v-6h2v-6h1v-9h1v2h1v3h1v10h1v7h1v-8h1v-5h1v-2h1v-2h1v10h1v5h2v-5h1v-19h1v-1h1v6h1v20h1v2h2v-7h1v-1h1v1h1v3h1v1h2v3h3v-10h1v-2h1v1h1v6h2v-1h1v5h1v1h1v-6h1v6h1v-1h1v-1h1v1h1v-7h1v-2h1v9h1v-6h1v1h1v2h1v-7h1v9h1v-4h1v2h3v3h4v1h1v-6h1v1h2v6h1v-3h1v2h1v-1h2v-1h1v1h1v-6h1v3h1v2h1v-2h1v1h1v1h1v2h2v-11h1v3h1v8h1v-1h3v-1h1v1h1v1h1v-1h1v1h1v-1h1v-1h1v2h1v-1h3v-9h2v2h1v1h1v3h1v-3h1v-5h1v-10h2v-1h1v6h1v-9h1v-3h1v11h1v14h2v3h1v-5h1v-3h1v7h2v2h2v-1h2v1h1v-6h1v-2h1v5h3v-7h1v2h1v2h1v3h1v1h1v-2h1v3h1v1h3v-8h1v8h1v-1h1v-8h1v2h1v5h1v-1h1v2h1v-1h1v2h1v-2h3v-5h1v2h1v2h1v-2h2v-3h1v4h1v4h3v-11h1v-2h1v4h1v4h2v4h1v-1h1v-1h1v1h1v1h2v-1h1v-5h3v7h1v1h1v-1h1v-5h3v-1h1v6h1v1h1v-8h1v-2h1v2h1v6h1v-2h1v1h1v-1h1v-1h1v3h1v-1h1v-1h2v-6h1v-2h1v6h2v4h2v-6h1v-1h1v5h2v-5h1v-2h1v-8h1v1h2v12h1v-1h1v2h2v3h1v-1h1v1h3v1h1v-6h2v4h1v1h1v-2h1v-3h1v-9h1v-6h1v3h1v10h1v1h1v2h1v-1h1v5h1v1h1v-3h1v-1h2v-1h1v1h1v-7h3v10h1v1h1v-1h1v-7h1v1h1v5h2v3h2v-1h1v-2h2v1h2v-1h3v-2h1v-1h1v-1h1v5h6v-3h1v2h1v1h1v-4h1v-3h1v1h1v6h1v1h1v-8h1v1h2v1h1v7h2v-2h2v1h2v-5h1v1h1v-6h1v7h1v-3h1v-3h2v3h1v-15h1v-15h1v-5h1v5h1v17h1v13h1v5h1v1h4v-4h1v5h1v-7h1v2h1v-1h1v-1h1v-10h1v-1h1v10h3v1h1v1h1v-3h1v7h2v-1h1v-3h1v-4h1v-12h1v5h1v8h1v7h3v-11h1v5h1v-3h1v4h1v-6h1v-1h1v8h1v1h1v-1h2v3h1v1h1v1h1v-1h2v1h2v4z" fill="#1f9e78"/>
<path d="M1213 2027.3v-4h2v-4h2v-4h1v1h1v6h2v1h2v-6h1v-2h1v1h1v7h1v-1h1v2h1v-8h1v-2h1v2h1v-2h2v1h2v3h1v9h1v-11h1v-2h1v4h1v-2h1v-2h1v3h1v-16h1v-8h1v-3h1v1h1v-4h1v4h1v8h1v13h1v11h3v-1h1v-8h1v-3h1v-1h1v11h1v1h1v-1h1v-4h1v-3h1v4h2v-1h1v-1h3v6h1v-1h2v-2h1v-2h1v6h3v-6h1v-17h1v-22h1v-4h1v9h1v-8h1v1h1v2h1v-4h1v9h1v19h1v6h1v1h1v1h1v-3h1v-28h1v5h1v1h1v25h1v12h1v-2h1v-3h1v1h1v1h1v4h1v-2h1v6h3v-5h2v-7h1v1h2v1h1v-4h1v2h1v7h1v1h1v-9h1v-3h1v5h1v1h1v1h1v-4h1v1h1v6h1v-10h2v5h2v2h1v-4h1v1h1v-1h1v3h1v1h1v-1h1v2h3v1h2v1h1v1h1v1h1v-1h1v2h1v-1h1v-9h1v2h2v-1h1v-1h1v1h1v-1h1v6h1v-2h1v5h4v-1h1v1h3v4h2v-5h1v1h1v-4h1v-1h1v-2h2v1h2v-2h1v8h3v-3h1v-1h1v2h1v-5h1v1h1v-3h1v5h2v-1h2v-1h1v-10h1v-12h1v-4h1v-3h2v14h1v15h1v-3h1v3h1v1h1v-4h1v9h1v-1h1v1h1v4h1v-1h1v-3h1v-7h2v-2h1v-2h1v4h1v-4h1v-10h1v-2h1v-1h1v4h1v9h1v7h1v2h1v-1h1v3h1v-1h1v-8h1v2h1v6h1v1h3v4h2v-3h2v-1h1v-7h1v-2h2v6h1v3h2v-1h2v-1h5v1h1v-9h2v2h1v5h1v1h1v1h1v-3h1v8z" fill="#1f9e78"/>
<path d="M775.6 2051L863.8 2051" stroke="#10108c" stroke-width="1.6" fill="none" />
<rect x="796" y="2045" width="3.6" height="12" fill="#10108c"/>
<path d="M863.8 2045.5L863.8 2056.5" stroke="#10108c" stroke-width="1.6" fill="none" />
<path d="M821 2052l-2.5 0l2.5 -2z" stroke="#10108c" stroke-width="0.8" fill="#10108c" />
<path d="M846.5 2052l-2.5 0l2.5 -2z" stroke="#10108c" stroke-width="0.8" fill="#10108c" />
<text transform="translate(789.3 2082.5) scale(1.040 1)" font-size="26" font-style="italic" stroke="#000" stroke-width="0.45" letter-spacing="0.83">FLT1</text>
<path d="M1245.3 2051.7L1404.9 2051.7" stroke="#10108c" stroke-width="1.6" fill="none" />
<rect x="1245.3" y="2045.2" width="1.7" height="13" fill="#10108c"/>
<rect x="1254.3" y="2047.7" width="0.5" height="8" fill="#10108c"/>
<rect x="1274.5" y="2045.2" width="1.8" height="13" fill="#10108c"/>
<rect x="1277.3" y="2045.2" width="2" height="13" fill="#10108c"/>
<rect x="1294.4" y="2045.2" width="1.8" height="13" fill="#10108c"/>
<rect x="1297.4" y="2045.2" width="1.7" height="13" fill="#10108c"/>
<rect x="1311.5" y="2045.2" width="5" height="13" fill="#10108c"/>
<rect x="1361.2" y="2045.2" width="2.5" height="13" fill="#10108c"/>
<rect x="1392.5" y="2045.2" width="4.2" height="13" fill="#10108c"/>
<rect x="1401" y="2047.2" width="0.6" height="9" fill="#10108c"/>
<rect x="1404.6" y="2047.2" width="0.6" height="9" fill="#10108c"/>
<path d="M1321 2051.7l3 -2.2v4.4z" stroke="#10108c" stroke-width="0.5" fill="#10108c" />
<path d="M1343 2051.7l3 -2.2v4.4z" stroke="#10108c" stroke-width="0.5" fill="#10108c" />
<path d="M1385 2051.7l3 -2.2v4.4z" stroke="#10108c" stroke-width="0.5" fill="#10108c" />
<text transform="translate(1256.9 2089.4) scale(1.048 1)" font-size="26.5" font-style="italic" stroke="#000" stroke-width="0.45">RASIP1</text>
<text transform="translate(1602 1688.9) scale(0.997 1)" font-size="26" stroke="#000" stroke-width="0.45">GO biological processes</text>
<rect x="1760.5" y="1726.6" width="130.4" height="66.4" fill="#0a9447"/>
<rect x="1760.5" y="1800.6" width="73.2" height="66.4" fill="#0a9447"/>
<rect x="1760.5" y="1874.6" width="65.3" height="66.4" fill="#0a9447"/>
<rect x="1760.5" y="1948.7" width="57.5" height="67" fill="#0a9447"/>
<rect x="1754.9" y="1716" width="142.4" height="309.5" fill="none" stroke="#333" stroke-width="2.2"/>
<path d="M1747 1760.1L1754.9 1760.1" stroke="#333" stroke-width="3" fill="none" />
<path d="M1747 1833.6L1754.9 1833.6" stroke="#333" stroke-width="3" fill="none" />
<path d="M1747 1908.2L1754.9 1908.2" stroke="#333" stroke-width="3" fill="none" />
<path d="M1747 1982.2L1754.9 1982.2" stroke="#333" stroke-width="3" fill="none" />
<path d="M1760.5 2025.5L1760.5 2033.9" stroke="#333" stroke-width="3" fill="none" />
<text transform="translate(1759 2059.8)" font-size="23.5" text-anchor="middle" stroke="#000" stroke-width="0.45">0</text>
<path d="M1794.5 2025.5L1794.5 2033.9" stroke="#333" stroke-width="3" fill="none" />
<text transform="translate(1793 2059.8)" font-size="23.5" text-anchor="middle" stroke="#000" stroke-width="0.45">2</text>
<path d="M1828 2025.5L1828 2033.9" stroke="#333" stroke-width="3" fill="none" />
<text transform="translate(1826.5 2059.8)" font-size="23.5" text-anchor="middle" stroke="#000" stroke-width="0.45">4</text>
<path d="M1862.4 2025.5L1862.4 2033.9" stroke="#333" stroke-width="3" fill="none" />
<text transform="translate(1860.9 2059.8)" font-size="23.5" text-anchor="middle" stroke="#000" stroke-width="0.45">6</text>
<path d="M1896 2025.5L1896 2033.9" stroke="#333" stroke-width="3" fill="none" />
<text transform="translate(1894.5 2059.8)" font-size="23.5" text-anchor="middle" stroke="#000" stroke-width="0.45">8</text>
<text transform="translate(1667 2092)" font-size="26" stroke="#000" stroke-width="0.45">–log</text>
<text transform="translate(1716 2099.5)" font-size="14.5" stroke="#000" stroke-width="0.45">10</text>
<text transform="translate(1734 2092)" font-size="26" stroke="#000" stroke-width="0.45">(binomial FDR)</text>
<text transform="translate(1739.5 1756)" font-size="26" text-anchor="end" stroke="#000" stroke-width="0.45">endothelium</text>
<text transform="translate(1739.5 1782.5)" font-size="26" text-anchor="end" stroke="#000" stroke-width="0.45">dev.</text>
<text transform="translate(1739.5 1830)" font-size="26" text-anchor="end" stroke="#000" stroke-width="0.45">angiogenesis involved</text>
<text transform="translate(1739.5 1855.6)" font-size="26" text-anchor="end" stroke="#000" stroke-width="0.45">in wound healing</text>
<text transform="translate(1739.5 1904)" font-size="26" text-anchor="end" stroke="#000" stroke-width="0.45">placenta blood</text>
<text transform="translate(1739.5 1930.5)" font-size="26" text-anchor="end" stroke="#000" stroke-width="0.45">vessel dev.</text>
<text transform="translate(1739.5 1978)" font-size="26" text-anchor="end" stroke="#000" stroke-width="0.45">microtubule cyto-</text>
<text transform="translate(1739.5 2004.5)" font-size="26" text-anchor="end" stroke="#000" stroke-width="0.45">skeleton organization</text>
</g>
<g id="pj">
<text transform="translate(-0.2 2293.6)" font-size="45" font-weight="bold">j</text>
<rect x="336.1" y="2275" width="14.6" height="14" fill="#f9a3a6"/>
<text transform="translate(359.4 2287.4)" font-size="24.5" stroke="#000" stroke-width="0.45">Promoter</text>
<rect x="513.3" y="2275" width="14.6" height="14" fill="#a9d8f2"/>
<text transform="translate(540.3 2290.5) scale(1.029 1)" font-size="24.5" stroke="#000" stroke-width="0.45">Distal</text>
<text transform="translate(533.5 2322.5) scale(0.977 1)" font-size="25" stroke="#000" stroke-width="0.45">5kb</text>
<path d="M539.7 2330.9L567.6 2330.9" stroke="#000" stroke-width="3" fill="none" />
<text transform="translate(756.3 2322.5) scale(0.989 1)" font-size="25" stroke="#000" stroke-width="0.45">2.5kb</text>
<path d="M749.8 2334.6L824.6 2334.6" stroke="#000" stroke-width="3" fill="none" />
<rect x="286.5" y="2339.2" width="11.5" height="323.8" fill="#fac8cb"/>
<rect x="437.2" y="2339.2" width="10" height="323.8" fill="#cfe8f6"/>
<rect x="523.2" y="2339.2" width="9.6" height="323.8" fill="#cfe8f6"/>
<rect x="694.2" y="2339.2" width="12.1" height="323.8" fill="#cfe8f6"/>
<path d="M612 2340.5L612 2662" stroke="#8c8c8c" stroke-width="3.2" fill="none" stroke-linecap="round"/>
<text transform="translate(93.6 2367.8) scale(0.938 1)" font-size="25.2" stroke="#000" stroke-width="0.45">D2</text>
<path d="M140.6 2337.2L140.6 2377.2" stroke="#000" stroke-width="3.2" fill="none" />
<text transform="translate(149.7 2367.8) scale(0.973 1)" font-size="25.2" stroke="#000" stroke-width="0.45">REST</text>
<text transform="translate(34.8 2435.7) scale(0.979 1)" font-size="25.2" stroke="#000" stroke-width="0.45">D3 Dox+</text>
<path d="M140.6 2391.3L140.6 2470.5" stroke="#000" stroke-width="3.2" fill="none" />
<text transform="translate(152 2414.5) scale(0.967 1)" font-size="25.2" stroke="#000" stroke-width="0.45">ETV2</text>
<text transform="translate(149.7 2461.1) scale(0.973 1)" font-size="25.2" stroke="#000" stroke-width="0.45">REST</text>
<text transform="translate(23.8 2519.4) scale(0.989 1)" font-size="25.2" stroke="#000" stroke-width="0.45">D3.5 Dox-</text>
<text transform="translate(45.5 2553.6) scale(0.910 1)" font-size="25.2" stroke="#000" stroke-width="0.45">FLK1</text>
<text transform="translate(104.7 2543.3) scale(0.879 1)" font-size="17.5" stroke="#000" stroke-width="0.45">+</text>
<path d="M140.6 2486.2L140.6 2561.4" stroke="#000" stroke-width="3.2" fill="none" />
<text transform="translate(152 2507.3) scale(0.967 1)" font-size="25.2" stroke="#000" stroke-width="0.45">ETV2</text>
<text transform="translate(149.7 2554.8) scale(0.973 1)" font-size="25.2" stroke="#000" stroke-width="0.45">REST</text>
<text transform="translate(23.8 2612.4) scale(0.989 1)" font-size="25.2" stroke="#000" stroke-width="0.45">D3.5 Dox-</text>
<text transform="translate(45.5 2646.9) scale(0.910 1)" font-size="25.2" stroke="#000" stroke-width="0.45">FLK1</text>
<text transform="translate(104.7 2635.6) scale(0.996 1)" font-size="17.5" stroke="#000" stroke-width="0.45">−</text>
<path d="M140.6 2579.4L140.6 2654.7" stroke="#000" stroke-width="3.2" fill="none" />
<text transform="translate(152 2600.6) scale(0.967 1)" font-size="25.2" stroke="#000" stroke-width="0.45">ETV2</text>
<text transform="translate(149.7 2648) scale(0.973 1)" font-size="25.2" stroke="#000" stroke-width="0.45">REST</text>
<path d="M224 2386.1v-1h6v-2h1.5v1h1.5v1h3v-2h3v2h1.5v-2h3v1h1.5v1h4.5v-3h1.5v-4h1.5v5h3v1h3v-4h1.5v1h1.5v3h1.5v-1h1.5v1h1.5v-1h3v-3h1.5v1h1.5v3h3v-1h1.5v-1h1.5v-1h3v-2h1.5v-16h1.5v1h1.5v13h1.5v1h3v-1h1.5v-1h1.5v4h1.5v-3h1.5v1h1.5v5h1.5v-13h1.5v-2h1.5v4h1.5v2h1.5v2h1.5v-16h1.5v3h1.5v13h1.5v6h1.5v-5h1.5v1h1.5v1h3v-7h1.5v-2h1.5v7h1.5v-3h1.5v-1h1.5v-11h3v5h1.5v7h1.5v-3h1.5v8h1.5v-2h4.5v-2h1.5v-2h1.5v-2h1.5v10h1.5v-7h1.5v-1h1.5v3h1.5v3h1.5v-4h1.5v2h1.5v2h1.5v-2h1.5v-4h1.5v2h3v2h1.5v4h1.5v-1h1.5v1h1.5v-6h1.5v6h1.5v-1h1.5v-5h1.5v5h1.5v-2h3v1h3v2h1.5v-1h1.5v-1h3v1h1.5v-5h1.5v-3h3v2h1.5v5h1.5v3h3v-7h1.5v7h3v-8h1.5v-2h1.5v6h1.5v-1h1.5v3h1.5v2h1.5v-7h3v2h1.5v4h1.5v1h1.5v-10h3v4h3v-4h1.5v4h1.5v6h1.5v-1h1.5v-1h1.5v-2h1.5v1h1.5v-2h1.5v-9h1.5v-1h1.5v9h1.5v5h1.5v1h1.5v-7h1.5v-5h1.5v-1h1.5v5h1.5v8h3v-8h3v4h1.5v1h1.5v-1h1.5v-3h1.5v1h1.5v-2h1.5v1h1.5v4h1.5v-6h1.5v1h1.5v4h1.5v4h1.5v-10h1.5v-4h3v3h1.5v-17h3v16h1.5v12h1.5v-2h1.5v1h1.5v-5h1.5v2h1.5v3h1.5v-5h1.5v4h1.5v-3h1.5v1h1.5v-2h1.5v-2h1.5v2h1.5v3h1.5v-5h1.5v-4h3v2h1.5v8h1.5v-4h1.5v2h1.5v3h1.5v-2h1.5v-1h1.5v-1h1.5v-5h1.5v-9h1.5v1h1.5v6h1.5v8h1.5v2h1.5v-4h1.5v1h1.5v1h1.5v1h1.5v-3h1.5v1h1.5v5h1.5v1h1.5v1h1.5v-2h1.5v-2h1.5v3h3v-3h1.5v-1h1.5v-1h1.5v-1h1.5v1h1.5v-1h1.5v7h1.5v-3h1.5v3h1.5v-7h1.5v3h1.5v1h1.5v-1h1.5v1h1.5v2h1.5v1h4.5v-3h3v3h1.5v-2h3v1h1.5v1h1.5v-1h3v-1h1.5v2h3v-4h1.5v1h1.5v5z" fill="#a5522d"/>
<path d="M618 2386.1v-4h1.5v-1h3v3h3v1h3v-1h1.5v1h3v-1h1.5v-2h1.5v2h1.5v1h1.5v-1h7.5v2h7.5v-2h3v1h4.5v-1h1.5v-2h1.5v2h6v-3h3v1h1.5v3h1.5v-1h1.5v-5h1.5v2h4.5v3h1.5v-1h3v3h3v-2h1.5v1h1.5v-1h1.5v1h1.5v-2h4.5v-1h3v1h1.5v-1h1.5v3h1.5v-1h1.5v-2h1.5v2h1.5v-1h3v1h1.5v1h1.5v-1h1.5v-2h3v-1h1.5v3h1.5v1h1.5v-1h1.5v2h1.5v-4h1.5v1h1.5v1h3v-1h3v1h6v-3h3v-1h1.5v4h1.5v-1h7.5v-2h7.5v1h1.5v-2h3v4h3v-2h3v-1h9v-1h3v2h1.5v1h3v1h1.5v2h6v-2h1.5v2h6v-3h3v2h4.5v1h1.5v-2h3v-2h3v-1h1.5v3h1.5v2z" fill="#a5522d"/>
<path d="M224 2431.7v-1h6v1h1.5v-2h7.5v2h12v-3h1.5v-1h1.5v1h3v2h10.5v-1h1.5v1h6v-1h1.5v-1h4.5v1h1.5v-1h1.5v-1h1.5v-4h1.5v-5h1.5v-1h1.5v1h1.5v-5h1.5v-5h1.5v1h1.5v7h1.5v3h1.5v5h1.5v5h1.5v1h1.5v-2h3v-1h1.5v-1h1.5v-1h4.5v1h3v1h1.5v1h1.5v1h3v-1h1.5v-1h4.5v1h1.5v-1h1.5v1h3v1h3v1h24v-2h3v2h3v-2h4.5v2h4.5v-1h3v-1h6v1h3v-1h1.5v2h4.5v-1h4.5v-1h4.5v1h1.5v1h3v1h1.5v-1h1.5v1h9v-1h3v-3h1.5v-5h3v3h1.5v4h3v-6h1.5v-10h1.5v-4h1.5v-3h1.5v-8h1.5v4h1.5v6h1.5v4h1.5v9h4.5v2h1.5v2h1.5v1h1.5v-3h1.5v1h1.5v1h1.5v3h1.5v1h7.5v-5h1.5v-5h1.5v1h1.5v5h1.5v1h1.5v-3h1.5v-1h3v2h3v1h1.5v3h1.5v2h1.5v1h1.5v-1h10.5v-2h1.5v-3h1.5v-2h3v3h1.5v4h9v-2h1.5v-3h1.5v-1h3v1h1.5v-7h1.5v-19h1.5v-1h1.5v16h1.5v16h7.5v-1h1.5v-1h3v-1h3v-7h1.5v-2h1.5v5h1.5v6h1.5v1h1.5v1h6v-1h12v-2h1.5v1h1.5v-2h1.5v2h1.5v1h3v-2h4.5v2h7.5v-3h3v1h1.5v-1h1.5v2h1.5v1h3v1z" fill="#f78a1a"/>
<path d="M618 2431.7v-2h3v-1h1.5v1h4.5v-1h1.5v-1h3v3h6v1h3v-1h9v-1h4.5v1h7.5v-1h4.5v1h4.5v-1h1.5v1h1.5v-1h6v1h1.5v-1h1.5v-1h1.5v-1h1.5v-1h1.5v-1h1.5v-1h4.5v-7h1.5v-6h1.5v-10h1.5v-4h1.5v1h1.5v7h1.5v8h1.5v9h1.5v6h3v1h1.5v-1h1.5v1h1.5v1h7.5v-2h1.5v1h4.5v-1h1.5v2h9v-1h3v1h16.5v-2h7.5v1h6v2h13.5v-3h1.5v1h4.5v1h4.5v1h6v-1h6v1h7.5v-1h7.5v1h3v-1h4.5v1z" fill="#f78a1a"/>
<path d="M224 2478.3v-2h3v-3h1.5v-2h1.5v3h3v1h1.5v-1h1.5v-1h1.5v1h1.5v2h13.5v-2h1.5v2h1.5v-3h1.5v1h1.5v-1h1.5v2h1.5v1h3v-3h1.5v1h1.5v-1h4.5v1h1.5v2h1.5v-3h1.5v-7h1.5v9h3v-16h1.5v3h1.5v8h1.5v-13h1.5v-4h1.5v7h1.5v-8h3v-10h1.5v1h1.5v16h1.5v11h1.5v-7h1.5v-3h1.5v6h1.5v4h1.5v2h3v-4h1.5v-5h1.5v-1h3v5h1.5v-2h1.5v-6h1.5v-6h1.5v-2h1.5v6h1.5v1h1.5v3h1.5v-3h1.5v-1h1.5v9h1.5v-8h3v2h1.5v3h3v3h1.5v-5h1.5v1h1.5v7h1.5v2h1.5v-6h3v2h1.5v-4h3v1h1.5v-4h1.5v9h3v-4h1.5v3h1.5v-1h1.5v-4h1.5v9h1.5v1h1.5v-3h1.5v-1h1.5v3h1.5v-1h3v-1h1.5v-1h1.5v-3h1.5v1h1.5v3h1.5v-12h1.5v2h1.5v13h1.5v-19h1.5v2h1.5v4h1.5v-1h1.5v9h1.5v-5h1.5v-4h1.5v8h3v-1h1.5v2h1.5v4h1.5v1h1.5v-13h1.5v4h1.5v3h1.5v-2h1.5v1h1.5v-1h1.5v9h1.5v-2h3v-11h1.5v4h1.5v-4h1.5v-6h1.5v2h1.5v10h1.5v4h1.5v-2h1.5v-10h3v4h1.5v-12h1.5v-5h1.5v1h3v-3h1.5v14h1.5v6h1.5v-1h1.5v3h1.5v1h1.5v-8h1.5v-12h1.5v3h1.5v9h1.5v14h1.5v-8h1.5v-5h1.5v2h1.5v7h1.5v5h1.5v-8h1.5v-3h3v2h1.5v4h1.5v-2h3v-1h1.5v-1h1.5v5h1.5v3h1.5v-3h1.5v-2h1.5v-4h1.5v5h1.5v-2h3v4h1.5v-3h3v-5h1.5v-5h1.5v-1h1.5v-11h1.5v1h1.5v7h1.5v1h1.5v1h1.5v5h1.5v8h1.5v-8h1.5v2h1.5v-3h1.5v-1h1.5v4h1.5v-6h1.5v-2h1.5v-2h1.5v-14h1.5v2h1.5v7h1.5v19h1.5v-8h1.5v13h3v1h3v-11h1.5v-8h1.5v3h1.5v8h1.5v-1h1.5v-18h1.5v3h1.5v19h1.5v2h1.5v-10h1.5v2h1.5v1h1.5v-3h1.5v14h3v-5h1.5v-1h1.5v1h1.5v1h3v3h3v-2h1.5v1h1.5v-1h3v-6h3v3h1.5v-3h1.5v4h1.5v-3h1.5v3h1.5v3h1.5v2h1.5v-1h1.5v1h3v1h1.5v-2h3v2h1.5v3z" fill="#a040b0"/>
<path d="M618 2478.3v-2h9v1h3v-1h6v2h12v-1h1.5v-1h4.5v1h3v-1h4.5v-1h6v-1h4.5v1h1.5v1h1.5v-1h3v-1h1.5v-1h1.5v-2h1.5v-1h3v-1h1.5v-1h1.5v1h3v-3h1.5v-7h1.5v-4h1.5v-6h1.5v-6h1.5v7h1.5v3h1.5v8h1.5v7h1.5v6h1.5v3h1.5v1h6v-3h1.5v1h1.5v-1h1.5v1h7.5v2h4.5v-2h4.5v1h7.5v1h10.5v-2h3v-1h1.5v3h4.5v-4h1.5v4h4.5v-2h6v1h4.5v-1h1.5v-1h1.5v1h1.5v1h1.5v-1h3v-1h1.5v3h6v-3h10.5v1h1.5v2h6v-1h1.5v-2h3v2h3v1h1.5v-2h6v2z" fill="#a040b0"/>
<path d="M224 2523.3v-2h1.5v1h22.5v-2h1.5v1h1.5v-1h1.5v1h3v1h4.5v-2h3v2h3v-1h1.5v1h1.5v-1h1.5v1h3v-1h1.5v1h1.5v-2h1.5v3h3v-3h3v-2h1.5v-4h1.5v-5h1.5v-2h3v-4h1.5v-1h1.5v-1h1.5v6h1.5v6h1.5v4h1.5v3h4.5v-3h1.5v-1h1.5v-3h1.5v-1h3v-1h1.5v2h1.5v3h1.5v-2h1.5v-1h1.5v1h1.5v-1h1.5v2h1.5v1h1.5v-1h4.5v1h1.5v1h1.5v2h1.5v-2h1.5v1h1.5v-3h4.5v1h3v2h1.5v2h1.5v-2h3v-2h4.5v-1h3v1h1.5v3h1.5v-5h3v2h3v2h1.5v1h3v-5h1.5v1h1.5v1h1.5v1h1.5v-2h1.5v5h3v-5h3v3h4.5v5h7.5v-6h1.5v2h1.5v-1h1.5v1h1.5v-5h1.5v1h1.5v1h1.5v-1h1.5v-1h1.5v1h1.5v-1h1.5v1h1.5v3h1.5v1h3v-2h1.5v2h1.5v-5h1.5v-4h1.5v1h1.5v1h1.5v2h1.5v-3h1.5v-1h1.5v-2h1.5v-1h1.5v-4h1.5v-2h1.5v-2h1.5v1h1.5v4h1.5v2h3v2h1.5v-6h1.5v-3h1.5v3h1.5v7h1.5v2h1.5v-1h1.5v3h1.5v4h1.5v3h1.5v-5h1.5v2h1.5v-2h1.5v-5h1.5v-4h1.5v-1h1.5v2h1.5v5h3v-4h1.5v-4h1.5v1h1.5v4h1.5v2h1.5v1h1.5v4h1.5v1h1.5v4h1.5v-2h1.5v-5h1.5v1h1.5v-1h1.5v4h1.5v1h1.5v-1h1.5v-3h1.5v-2h1.5v-1h1.5v2h1.5v3h1.5v-5h1.5v-1h1.5v1h1.5v4h1.5v4h1.5v-3h1.5v-3h3v-1h1.5v-3h3v-1h1.5v-7h3v4h1.5v9h1.5v2h1.5v2h1.5v-3h1.5v-1h1.5v1h1.5v-2h1.5v1h1.5v2h1.5v-3h1.5v-6h1.5v-1h1.5v3h1.5v7h3v2h3v2h4.5v-1h1.5v1h4.5v-1h1.5v-1h3v2h4.5v1h1.5v-1h3v-1h3v1h3v1h4.5v-1h1.5v1h1.5v-3h4.5v2h1.5v1h1.5v1z" fill="#d95f0e"/>
<path d="M618 2523.3v-7h1.5v-1h1.5v1h1.5v4h1.5v1h1.5v-1h1.5v-7h1.5v7h1.5v-5h1.5v1h1.5v-1h1.5v6h1.5v-1h7.5v3h4.5v-7h1.5v-4h1.5v1h1.5v7h1.5v1h1.5v-1h3v-4h1.5v3h3v-1h1.5v-2h1.5v-1h3v-1h3v1h3v2h1.5v-1h1.5v2h1.5v-1h1.5v-1h1.5v-2h1.5v-1h1.5v-1h1.5v-2h1.5v1h3v-2h1.5v2h1.5v-2h1.5v-7h1.5v-3h1.5v-2h1.5v3h1.5v5h1.5v4h1.5v3h1.5v4h3v4h3v1h1.5v-5h3v1h1.5v1h1.5v-1h1.5v6h1.5v-7h1.5v1h1.5v-1h1.5v4h1.5v1h1.5v-5h1.5v2h1.5v-1h1.5v1h3v-1h1.5v1h1.5v-2h1.5v1h1.5v-1h1.5v1h1.5v6h4.5v-3h3v1h3v-5h1.5v1h1.5v-1h1.5v4h1.5v-1h1.5v2h1.5v-1h1.5v1h1.5v-4h1.5v2h1.5v-1h1.5v-1h1.5v3h1.5v-2h1.5v-1h1.5v1h1.5v2h1.5v-2h1.5v1h3v1h4.5v1h1.5v-1h1.5v-2h1.5v-2h3v4h3v-1h1.5v1h3v-3h1.5v-1h1.5v-2h1.5v6h3v-1h1.5v1h1.5v-1h1.5v2h1.5v-1h4.5v1h1.5v-3h1.5v5z" fill="#d95f0e"/>
<path d="M224 2570.5v-4h1.5v1h1.5v2h1.5v-1h3v-1h1.5v1h10.5v-1h1.5v1h1.5v-2h1.5v4h1.5v-2h3v-1h3v1h4.5v-2h1.5v1h3v-1h3v1h4.5v-1h3v-1h1.5v-13h1.5v10h1.5v-1h1.5v-3h1.5v3h1.5v1h3v-1h1.5v-6h1.5v-4h1.5v-2h1.5v7h1.5v6h1.5v2h1.5v-6h1.5v1h1.5v5h1.5v-1h1.5v2h1.5v-11h1.5v-8h1.5v1h1.5v9h1.5v2h1.5v-2h1.5v-1h1.5v1h3v-4h3v-3h1.5v-1h1.5v-9h1.5v-8h1.5v-1h1.5v14h1.5v5h1.5v1h1.5v-4h1.5v-1h1.5v4h1.5v5h1.5v-2h1.5v1h1.5v5h1.5v2h1.5v-1h1.5v-1h1.5v2h1.5v2h1.5v-3h1.5v6h1.5v-8h1.5v7h3v1h1.5v-2h1.5v-5h3v1h3v7h1.5v-1h3v-1h1.5v2h1.5v-7h3v1h1.5v1h1.5v1h1.5v-3h3v7h3v-14h1.5v4h1.5v2h1.5v2h1.5v1h1.5v-4h1.5v-1h1.5v-4h1.5v2h1.5v8h1.5v-1h1.5v-4h1.5v6h3v-3h1.5v-2h3v3h1.5v-5h1.5v3h1.5v-3h1.5v-2h1.5v2h1.5v-2h1.5v-3h1.5v1h1.5v1h1.5v-4h1.5v1h1.5v-2h1.5v5h1.5v1h3v-2h3v1h1.5v-3h1.5v1h1.5v3h1.5v9h1.5v-2h1.5v1h1.5v-3h3v-4h3v3h1.5v-5h1.5v12h3v-4h1.5v1h1.5v-2h1.5v-4h1.5v1h1.5v-1h1.5v2h1.5v6h3v-5h1.5v4h1.5v-5h3v1h1.5v-1h1.5v3h1.5v-1h1.5v-3h1.5v-1h1.5v2h1.5v-1h1.5v1h1.5v-1h1.5v3h1.5v-4h1.5v-4h1.5v2h1.5v-1h3v1h1.5v4h1.5v-1h1.5v5h3v2h1.5v-1h1.5v1h3v1h1.5v-1h1.5v-9h1.5v-6h3v3h1.5v9h3v1h1.5v-3h1.5v1h1.5v-3h1.5v1h1.5v1h1.5v-6h1.5v8h1.5v-6h1.5v2h1.5v2h1.5v5h1.5v-3h1.5v4h7.5v-3h1.5v2h1.5v-1h3v5h4.5v-1h1.5v-1h1.5v-1h1.5v-2h1.5v-6h1.5v-12h1.5v2h1.5v18h1.5v2h1.5v-1h1.5v1h1.5v1h1.5v-5h1.5v1h1.5v3h1.5v-4h1.5v-1h1.5v5h1.5v-3h3v6z" fill="#7570b3"/>
<path d="M618 2570.5v-2h1.5v2h4.5v-1h1.5v-3h1.5v-2h3v4h1.5v-3h1.5v1h3v4h4.5v-1h1.5v-1h9v2h1.5v-1h1.5v-1h1.5v1h1.5v-2h3v-3h3v-1h1.5v3h1.5v-1h1.5v-1h3v-1h1.5v2h3v2h1.5v1h1.5v-2h1.5v3h3v-1h1.5v-2h1.5v-2h1.5v-1h1.5v-2h1.5v-1h1.5v-2h3v-3h1.5v-2h1.5v-5h1.5v-1h1.5v3h1.5v3h1.5v5h1.5v2h1.5v4h3v1h1.5v4h1.5v-2h1.5v-4h4.5v2h1.5v3h1.5v-4h1.5v-2h1.5v1h1.5v2h1.5v3h1.5v2h3v-2h1.5v1h1.5v-3h3v4h3v-4h4.5v2h1.5v1h1.5v-1h1.5v2h3v-6h1.5v3h1.5v-1h1.5v-3h1.5v2h1.5v3h4.5v2h1.5v-2h9v-3h3v5h1.5v-1h1.5v-1h3v-4h1.5v-1h1.5v7h4.5v-2h4.5v-3h1.5v1h1.5v2h4.5v-3h1.5v1h1.5v-1h1.5v5h1.5v-1h1.5v1h3v-2h1.5v1h1.5v-1h1.5v1h1.5v-1h1.5v1h3v-1h3v2z" fill="#7570b3"/>
<path d="M224 2616.4v-3h1.5v-1h1.5v-1h3v3h3v-5h4.5v5h3v-2h4.5v2h4.5v-2h3v2h6v-2h1.5v2h3v-1h3v1h3v2h3v-2h3v-4h1.5v-1h1.5v5h3v2h1.5v-2h4.5v-2h1.5v-1h1.5v3h1.5v-5h3v-1h1.5v2h1.5v3h1.5v1h6v-2h1.5v-5h1.5v-1h1.5v7h1.5v1h4.5v-1h1.5v1h4.5v-1h1.5v-3h4.5v2h1.5v2h4.5v2h3v-2h3v-3h1.5v3h3v-3h3v3h1.5v1h3v-1h1.5v-3h1.5v3h3v-4h1.5v3h3v3h1.5v-2h1.5v-1h1.5v1h6v-2h1.5v-2h1.5v-2h3v2h1.5v1h1.5v2h1.5v1h16.5v-2h6v2h1.5v-1h1.5v-1h1.5v-6h1.5v-1h1.5v5h1.5v1h1.5v3h3v-3h3v-1h1.5v1h1.5v-6h3v5h3v-1h3v-1h1.5v-6h1.5v2h1.5v2h1.5v7h1.5v1h4.5v-1h1.5v-2h1.5v-1h3v4h1.5v-4h1.5v2h3v1h3v3h3v-3h1.5v1h1.5v-5h1.5v7h3v-4h1.5v1h1.5v-1h1.5v-1h3v3h4.5v-3h3v3h1.5v-1h3v-4h3v4h1.5v1h3v-6h3v4h1.5v-1h1.5v1h1.5v2h1.5v-2h3v1h1.5v-1h1.5v-2h1.5v4h1.5v1h1.5v-1h3v-3h3v4h1.5v-4h1.5v2h1.5v-1h3v4h3v-2h1.5v-2h3v2h6v2h1.5v-2h1.5v-1h1.5v-3h1.5v-1h3v1h1.5v4h4.5v2h3v-5h1.5v3h4.5v-2h1.5v-3h1.5v3h3v3h1.5v-4h1.5v3h1.5v-4h1.5v1h1.5v3h3v1h1.5v1h3v-4h3v1h1.5v-1h4.5v2h1.5v2z" fill="#d95f0e"/>
<path d="M618 2616.4v-5h1.5v3h3v-3h3v2h1.5v1h3v-2h1.5v4h6v-5h1.5v-1h1.5v1h3v3h13.5v-2h3v1h3v-1h1.5v4h6v-2h1.5v-1h3v-4h1.5v1h1.5v6h4.5v-6h1.5v-1h1.5v1h1.5v1h1.5v2h3v1h1.5v-4h1.5v3h1.5v1h3v-3h1.5v1h4.5v1h1.5v-2h1.5v5h6v-3h3v-1h1.5v1h3v1h4.5v2h3v-3h1.5v-1h3v-1h1.5v-2h3v5h7.5v-2h3v2h3v-1h4.5v-1h1.5v1h1.5v-1h3v-2h1.5v1h3v3h4.5v-3h1.5v1h6v-2h1.5v2h3v-2h1.5v2h1.5v-1h3v3h4.5v-4h3v3h7.5v1h1.5v-4h1.5v1h1.5v3h13.5v-1h1.5v-3h1.5v-1h1.5v5h1.5v2z" fill="#d95f0e"/>
<path d="M224 2662v-1h1.5v-1h4.5v-1h1.5v-1h3v2h1.5v1h1.5v1h3v-2h7.5v1h1.5v-1h4.5v-1h3v1h1.5v-1h1.5v-1h1.5v1h1.5v-1h3v1h1.5v-1h1.5v2h3v-1h3v2h3v-1h9v-1h1.5v-2h1.5v-2h1.5v5h1.5v-2h1.5v-1h1.5v-2h6v1h3v-3h3v1h1.5v-1h1.5v6h1.5v-4h4.5v-1h1.5v-8h3v-1h1.5v-5h1.5v-1h1.5v-12h1.5v4h1.5v3h1.5v14h1.5v-1h1.5v4h1.5v1h1.5v3h1.5v-2h1.5v-1h3v2h1.5v2h1.5v3h4.5v-3h1.5v3h4.5v-4h1.5v1h1.5v-1h1.5v3h3v-1h1.5v1h1.5v2h3v-3h3v-3h1.5v2h1.5v3h4.5v-1h1.5v-3h1.5v1h4.5v2h1.5v-3h1.5v2h1.5v2h3v-1h1.5v-1h1.5v-2h1.5v-2h3v2h1.5v3h1.5v1h1.5v-5h1.5v3h1.5v-3h1.5v-2h3v1h1.5v3h1.5v4h1.5v-1h1.5v-2h1.5v-3h1.5v-5h3v3h3v-1h1.5v-1h1.5v5h1.5v3h1.5v-5h3v5h1.5v1h1.5v-4h3v-3h1.5v1h1.5v-1h1.5v2h1.5v-1h1.5v2h1.5v-1h1.5v2h1.5v3h3v-2h1.5v1h1.5v-3h1.5v2h4.5v-3h1.5v5h3v-2h1.5v3h3v-1h6v-2h4.5v-3h1.5v1h1.5v-1h1.5v1h1.5v-1h1.5v6h3v-4h1.5v-1h1.5v4h4.5v-3h1.5v-1h1.5v1h1.5v2h1.5v-1h1.5v1h1.5v2h1.5v-4h1.5v2h1.5v1h1.5v-2h1.5v-3h1.5v-1h1.5v-1h1.5v4h1.5v1h1.5v-3h1.5v1h1.5v4h1.5v-4h1.5v4h3v-4h1.5v2h3v3h1.5v-1h1.5v-3h1.5v1h1.5v1h3v1h1.5v-3h1.5v6h3v-2h1.5v-2h1.5v-3h1.5v1h1.5v2h3v-1h1.5v2h1.5v-1h1.5v2h1.5v-1h3v-8h1.5v-9h3v16h1.5v1h1.5v-2h1.5v2h1.5v1h1.5v-2h1.5v-3h1.5v2h1.5v-1h1.5v-3h1.5v1h1.5v4h3v4z" fill="#7570b3"/>
<path d="M618 2662v-3h3v1h3v-1h1.5v-1h1.5v1h1.5v-1h1.5v-2h9v1h3v3h1.5v-1h1.5v1h1.5v-1h1.5v-2h1.5v2h1.5v-2h1.5v1h3v-1h4.5v-1h1.5v1h1.5v2h1.5v1h1.5v-2h1.5v1h4.5v1h3v-1h6v-5h1.5v3h1.5v2h3v1h3v-3h4.5v-1h1.5v6h3v-3h1.5v1h3v-2h3v-1h1.5v1h1.5v-2h1.5v-1h1.5v3h1.5v-1h1.5v1h1.5v-1h1.5v2h1.5v1h1.5v-1h1.5v3h6v-3h6v-1h1.5v-1h4.5v2h1.5v-2h1.5v2h1.5v-4h1.5v1h3v1h1.5v1h3v1h3v1h1.5v-1h6v-1h1.5v-1h1.5v-1h1.5v1h3v3h1.5v-1h1.5v1h1.5v-1h6v-5h3v3h1.5v-1h1.5v-1h1.5v2h1.5v1h1.5v1h4.5v1h1.5v-4h1.5v-2h1.5v5h1.5v1h1.5v-1h4.5v-1h3v2h1.5v-1h1.5v-1h1.5v-3h3v4h1.5v-1h4.5v2h1.5v2z" fill="#7570b3"/>
<path d="M293.3 2677.9L587.8 2677.9" stroke="#10108c" stroke-width="1.8" fill="none" />
<path d="M293.3 2670.9L293.3 2684.9" stroke="#10108c" stroke-width="1.8" fill="none" />
<path d="M428.8 2670.9L428.8 2684.9" stroke="#10108c" stroke-width="1.8" fill="none" />
<path d="M307.2 2674.7l3.2 3.2l-3.2 3.2" stroke="#10108c" stroke-width="1.5" fill="none" />
<path d="M340.6 2674.7l3.2 3.2l-3.2 3.2" stroke="#10108c" stroke-width="1.5" fill="none" />
<path d="M374 2674.7l3.2 3.2l-3.2 3.2" stroke="#10108c" stroke-width="1.5" fill="none" />
<path d="M407.4 2674.7l3.2 3.2l-3.2 3.2" stroke="#10108c" stroke-width="1.5" fill="none" />
<path d="M440.8 2674.7l3.2 3.2l-3.2 3.2" stroke="#10108c" stroke-width="1.5" fill="none" />
<path d="M474.2 2674.7l3.2 3.2l-3.2 3.2" stroke="#10108c" stroke-width="1.5" fill="none" />
<path d="M507.6 2674.7l3.2 3.2l-3.2 3.2" stroke="#10108c" stroke-width="1.5" fill="none" />
<path d="M541 2674.7l3.2 3.2l-3.2 3.2" stroke="#10108c" stroke-width="1.5" fill="none" />
<path d="M574.4 2674.7l3.2 3.2l-3.2 3.2" stroke="#10108c" stroke-width="1.5" fill="none" />
<text transform="translate(360 2714) scale(1.040 1)" font-size="26" font-style="italic" stroke="#000" stroke-width="0.45" letter-spacing="2.01">GATA4</text>
<path d="M606.4 2677.9L637.4 2677.9" stroke="#10108c" stroke-width="1.8" fill="none" />
<rect x="637.4" y="2670.6" width="12.4" height="14.6" fill="#10108c"/>
<path d="M627 2675.4l3 2.5l-3 2.5z" stroke="#10108c" stroke-width="0.5" fill="#10108c" />
<text transform="translate(625 2714) scale(1.040 1)" font-size="26" font-style="italic" stroke="#000" stroke-width="0.45" letter-spacing="1.18">MYOG</text>
<text transform="translate(999.5 2312.2) scale(0.997 1)" font-size="26" stroke="#000" stroke-width="0.45">GO biological processes</text>
<rect x="1166.2" y="2347.3" width="130.3" height="53.4" fill="#662d91"/>
<rect x="1166.2" y="2407.5" width="115.8" height="53.1" fill="#662d91"/>
<rect x="1166.2" y="2466.8" width="99.6" height="53.4" fill="#662d91"/>
<rect x="1166.2" y="2526.4" width="86.8" height="53.4" fill="#662d91"/>
<rect x="1166.2" y="2586" width="83.1" height="53.7" fill="#662d91"/>
<rect x="1160.3" y="2339.2" width="141.8" height="308.2" fill="none" stroke="#333" stroke-width="2.2"/>
<path d="M1152.2 2374.3L1160.3 2374.3" stroke="#333" stroke-width="3" fill="none" />
<path d="M1152.2 2433.9L1160.3 2433.9" stroke="#333" stroke-width="3" fill="none" />
<path d="M1152.2 2493.8L1160.3 2493.8" stroke="#333" stroke-width="3" fill="none" />
<path d="M1152.2 2552.8L1160.3 2552.8" stroke="#333" stroke-width="3" fill="none" />
<path d="M1152.2 2612.7L1160.3 2612.7" stroke="#333" stroke-width="3" fill="none" />
<path d="M1166.2 2647.4L1166.2 2655.8" stroke="#333" stroke-width="3" fill="none" />
<text transform="translate(1164.7 2680)" font-size="23.5" text-anchor="middle" stroke="#000" stroke-width="0.45">0</text>
<path d="M1199 2647.4L1199 2655.8" stroke="#333" stroke-width="3" fill="none" />
<text transform="translate(1197.5 2680)" font-size="23.5" text-anchor="middle" stroke="#000" stroke-width="0.45">2</text>
<path d="M1231.6 2647.4L1231.6 2655.8" stroke="#333" stroke-width="3" fill="none" />
<text transform="translate(1230.1 2680)" font-size="23.5" text-anchor="middle" stroke="#000" stroke-width="0.45">4</text>
<path d="M1264.2 2647.4L1264.2 2655.8" stroke="#333" stroke-width="3" fill="none" />
<text transform="translate(1262.7 2680)" font-size="23.5" text-anchor="middle" stroke="#000" stroke-width="0.45">6</text>
<path d="M1296.8 2647.4L1296.8 2655.8" stroke="#333" stroke-width="3" fill="none" />
<text transform="translate(1295.3 2680)" font-size="23.5" text-anchor="middle" stroke="#000" stroke-width="0.45">8</text>
<text transform="translate(1114.3 2706.4)" font-size="26" stroke="#000" stroke-width="0.45">–log</text>
<text transform="translate(1163.3 2713.8)" font-size="14.5" stroke="#000" stroke-width="0.45">10</text>
<text transform="translate(1181 2706.4)" font-size="26" stroke="#000" stroke-width="0.45">(binomial FDR)</text>
<text transform="translate(1144.7 2371.2)" font-size="26" text-anchor="end" stroke="#000" stroke-width="0.45">skeletal muscle</text>
<text transform="translate(1144.7 2397)" font-size="26" text-anchor="end" stroke="#000" stroke-width="0.45">tissue dev.</text>
<text transform="translate(1144.7 2430.2)" font-size="26" text-anchor="end" stroke="#000" stroke-width="0.45">embryonic heart</text>
<text transform="translate(1144.7 2456.6)" font-size="26" text-anchor="end" stroke="#000" stroke-width="0.45">tube dev.</text>
<text transform="translate(1144.7 2490)" font-size="26" text-anchor="end" stroke="#000" stroke-width="0.45">cardiac vascular smooth</text>
<text transform="translate(1144.7 2515.5)" font-size="26" text-anchor="end" stroke="#000" stroke-width="0.45">muscle cell differentiation</text>
<text transform="translate(1144.7 2549.7)" font-size="26" text-anchor="end" stroke="#000" stroke-width="0.45">cardiac chamber</text>
<text transform="translate(1144.7 2575)" font-size="26" text-anchor="end" stroke="#000" stroke-width="0.45">formation</text>
<text transform="translate(1144.7 2609.3)" font-size="26" text-anchor="end" stroke="#000" stroke-width="0.45">reg. of secondary</text>
<text transform="translate(1144.7 2635)" font-size="26" text-anchor="end" stroke="#000" stroke-width="0.45">heart field cardioblast</text>
<text transform="translate(1144.7 2661.4)" font-size="26" text-anchor="end" stroke="#000" stroke-width="0.45">proliferation</text>
</g>
<g id="pk">
<text transform="translate(1367 2296.2)" font-size="45" font-weight="bold">k</text>
<text transform="translate(1628.5 2372) rotate(-45) scale(1.030 1)" font-size="24.5" stroke="#000" stroke-width="0.45">Input</text>
<text transform="translate(1704.5 2372) rotate(-45) scale(1.060 1)" font-size="24.5" stroke="#000" stroke-width="0.45">IP:IgG</text>
<text transform="translate(1795.5 2372) rotate(-45) scale(1.050 1)" font-size="24.5" stroke="#000" stroke-width="0.45">IP:ETV2</text>
<path d="M1594 2379.2L1661.6 2379.2" stroke="#000" stroke-width="2" fill="none" />
<path d="M1675.9 2379.2L1742.5 2379.2" stroke="#000" stroke-width="2" fill="none" />
<path d="M1759.5 2379.2L1832.3 2379.2" stroke="#000" stroke-width="2" fill="none" />
<text transform="translate(1608.6 2408.2) scale(1.036 1)" font-size="25" stroke="#000" stroke-width="0.45">D3.5</text>
<text transform="translate(1687.2 2408.2) scale(1.021 1)" font-size="25" stroke="#000" stroke-width="0.45">D3.5</text>
<text transform="translate(1768.4 2408.2) scale(1.015 1)" font-size="25" stroke="#000" stroke-width="0.45">D3.5</text>
<text transform="translate(1605.2 2441) scale(1.018 1)" font-size="25" stroke="#000" stroke-width="0.45">FLK1</text>
<text transform="translate(1666.5 2432)" font-size="16" stroke="#000" stroke-width="0.45">+</text>
<text transform="translate(1683.8 2441) scale(1.016 1)" font-size="25" stroke="#000" stroke-width="0.45">FLK1</text>
<text transform="translate(1745 2432)" font-size="16" stroke="#000" stroke-width="0.45">+</text>
<text transform="translate(1764 2441)" font-size="25" stroke="#000" stroke-width="0.45">FLK1</text>
<text transform="translate(1824.2 2432)" font-size="16" stroke="#000" stroke-width="0.45">+</text>
<text transform="translate(1839.1 2445.8) scale(1.040 1)" font-size="23" stroke="#000" stroke-width="0.45" letter-spacing="0.88">kDa</text>
<clipPath id="ck1"><rect x="1599.1" y="2448.5" width="222.9" height="59.8"/></clipPath>
<g clip-path="url(#ck1)">
<rect x="1604" y="2448.5" width="70.8" height="59.8" fill="#f7f7f7" filter="url(#bl2)"/>
<rect x="1677" y="2448.5" width="70" height="59.8" fill="#f7f7f7" filter="url(#bl2)"/>
<rect x="1749" y="2448.5" width="71" height="59.8" fill="#f7f7f7" filter="url(#bl2)"/>
<rect x="1609" y="2463" width="61" height="25" fill="#8a8a8a" opacity="1.0" filter="url(#bl)"/>
<rect x="1609" y="2467" width="61" height="17" fill="#777" opacity="1.0" filter="url(#bl)"/>
<rect x="1754" y="2461" width="61" height="33" fill="#6a6a6a" opacity="1.0" filter="url(#bl)"/>
<rect x="1754" y="2466" width="61" height="23" fill="#505050" opacity="1.0" filter="url(#bl)"/>
</g>
<rect x="1599.1" y="2448.5" width="222.9" height="59.8" fill="none" stroke="#000" stroke-width="2.8"/>
<clipPath id="ck2"><rect x="1599.1" y="2517.5" width="222.9" height="59.7"/></clipPath>
<g clip-path="url(#ck2)">
<rect x="1604" y="2517.5" width="70.8" height="59.7" fill="#f7f7f7" filter="url(#bl2)"/>
<rect x="1677" y="2517.5" width="70" height="59.7" fill="#f7f7f7" filter="url(#bl2)"/>
<rect x="1749" y="2517.5" width="71" height="59.7" fill="#f7f7f7" filter="url(#bl2)"/>
<rect x="1609" y="2531" width="61" height="30" fill="#555" opacity="1.0" filter="url(#bl)"/>
<rect x="1609" y="2536" width="61" height="20" fill="#333" opacity="1.0" filter="url(#bl)"/>
<rect x="1754" y="2537" width="61" height="18" fill="#808080" opacity="1.0" filter="url(#bl)"/>
<rect x="1754" y="2540" width="61" height="12" fill="#707070" opacity="1.0" filter="url(#bl)"/>
</g>
<rect x="1599.1" y="2517.5" width="222.9" height="59.7" fill="none" stroke="#000" stroke-width="2.8"/>
<clipPath id="ck3"><rect x="1599.1" y="2586.8" width="222.9" height="60.4"/></clipPath>
<g clip-path="url(#ck3)">
<rect x="1604" y="2586.8" width="70.8" height="60.4" fill="#f7f7f7" filter="url(#bl2)"/>
<rect x="1677" y="2586.8" width="70" height="60.4" fill="#f7f7f7" filter="url(#bl2)"/>
<rect x="1749" y="2586.8" width="71" height="60.4" fill="#f7f7f7" filter="url(#bl2)"/>
<rect x="1609" y="2603" width="61" height="31" fill="#7a7a7a" opacity="1.0" filter="url(#bl)"/>
<rect x="1609" y="2608" width="61" height="21" fill="#606060" opacity="1.0" filter="url(#bl)"/>
<rect x="1754" y="2606" width="61" height="27" fill="#8c8c8c" opacity="1.0" filter="url(#bl)"/>
<rect x="1754" y="2610" width="61" height="19" fill="#7c7c7c" opacity="1.0" filter="url(#bl)"/>
</g>
<rect x="1599.1" y="2586.8" width="222.9" height="60.4" fill="none" stroke="#000" stroke-width="2.8"/>
<path d="M1822 2501.4L1834 2501.4" stroke="#000" stroke-width="2" fill="none" />
<path d="M1822 2525.3L1834 2525.3" stroke="#000" stroke-width="2" fill="none" />
<path d="M1822 2632.9L1834 2632.9" stroke="#000" stroke-width="2" fill="none" />
<text transform="translate(1840.1 2504.8) scale(1.029 1)" font-size="27" stroke="#000" stroke-width="0.45">40</text>
<text transform="translate(1840.1 2535.6) scale(1.029 1)" font-size="27" stroke="#000" stroke-width="0.45">66</text>
<text transform="translate(1840.1 2641.4) scale(1.040 1)" font-size="27" stroke="#000" stroke-width="0.45" letter-spacing="0.52">200</text>
<text transform="translate(1417.5 2550.2)" font-size="26.5" stroke="#000" stroke-width="0.45">IB:</text>
<path d="M1459.4 2451.9L1459.4 2642.1" stroke="#000" stroke-width="2.6" fill="none" />
<text transform="translate(1492.6 2481.6) scale(1.040 1)" font-size="27" stroke="#000" stroke-width="0.45" letter-spacing="1.03">ETV2</text>
<text transform="translate(1479.6 2551.6) scale(1.040 1)" font-size="27" stroke="#000" stroke-width="0.45" letter-spacing="1.27">GABPA</text>
<text transform="translate(1489.2 2620.9) scale(1.040 1)" font-size="27" stroke="#000" stroke-width="0.45" letter-spacing="0.61">REST</text>
</g>
</svg>
</body></html>
